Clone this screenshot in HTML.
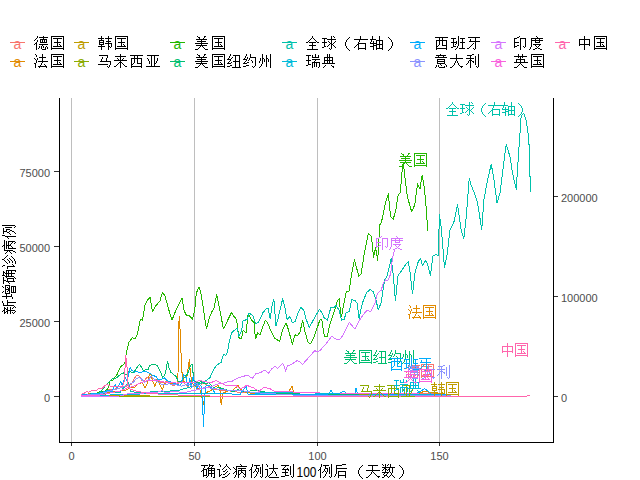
<!DOCTYPE html>
<html><head><meta charset="utf-8">
<style>
html,body{margin:0;padding:0;background:#fff;width:640px;height:480px;overflow:hidden}
svg{position:absolute;left:0;top:0}
text{font-family:"Liberation Sans",sans-serif}
.ax{font-size:11px;fill:#4d4d4d}
.lg{font-size:15px;fill:#000;letter-spacing:1.3px}
</style></head><body>
<svg width="640" height="480" viewBox="0 0 640 480">
<g stroke="#bebebe" stroke-width="1" shape-rendering="crispEdges">
<line x1="71.5" y1="98" x2="71.5" y2="442" />
<line x1="194.5" y1="98" x2="194.5" y2="442" />
<line x1="317.5" y1="98" x2="317.5" y2="442" />
<line x1="439.5" y1="98" x2="439.5" y2="442" />
</g>
<g stroke="#000" stroke-width="1" fill="none" shape-rendering="crispEdges">
<path d="M59.5 98 V442.5 H553.5 V98"/>
</g>
<g stroke="#333" stroke-width="1" shape-rendering="crispEdges">
<line x1="54" y1="396.5" x2="59" y2="396.5"/>
<line x1="54" y1="321.5" x2="59" y2="321.5"/>
<line x1="54" y1="246.5" x2="59" y2="246.5"/>
<line x1="54" y1="171.5" x2="59" y2="171.5"/>
<line x1="554" y1="396.5" x2="558" y2="396.5"/>
<line x1="554" y1="296.5" x2="558" y2="296.5"/>
<line x1="554" y1="196.5" x2="558" y2="196.5"/>
<line x1="71.5" y1="443" x2="71.5" y2="446"/>
<line x1="194.5" y1="443" x2="194.5" y2="446"/>
<line x1="317.5" y1="443" x2="317.5" y2="446"/>
<line x1="439.5" y1="443" x2="439.5" y2="446"/>
</g>
<g class="ax" text-anchor="end">
<text x="50" y="401.5">0</text>
<text x="50" y="326.5">25000</text>
<text x="50" y="251.5">50000</text>
<text x="50" y="176.5">75000</text>
</g>
<g class="ax">
<text x="561" y="401.5">0</text>
<text x="561" y="301.5">100000</text>
<text x="561" y="201.5">200000</text>
</g>
<g class="ax" text-anchor="middle">
<text x="71.5" y="459.5">0</text>
<text x="194.5" y="459.5">50</text>
<text x="317.5" y="459.5">100</text>
<text x="439.5" y="459.5">150</text>
</g>
<path fill="#000" shape-rendering="crispEdges" d="M209 464h1v1h-1zM201 465h7v1h-7zM209 465h5v1h-5zM204 466h1v1h-1zM209 466h1v1h-1zM212 466h1v1h-1zM204 467h1v1h-1zM208 467h1v1h-1zM211 467h1v1h-1zM203 468h1v1h-1zM207 468h8v1h-8zM203 469h4v1h-4zM208 469h1v1h-1zM211 469h1v1h-1zM214 469h1v1h-1zM202 470h2v1h-2zM206 470h1v1h-1zM208 470h7v1h-7zM201 471h1v1h-1zM203 471h1v1h-1zM206 471h1v1h-1zM208 471h1v1h-1zM211 471h1v1h-1zM214 471h1v1h-1zM203 472h1v1h-1zM206 472h1v1h-1zM208 472h1v1h-1zM211 472h1v1h-1zM214 472h1v1h-1zM203 473h1v1h-1zM206 473h1v1h-1zM208 473h7v1h-7zM203 474h1v1h-1zM206 474h1v1h-1zM208 474h1v1h-1zM211 474h1v1h-1zM214 474h1v1h-1zM203 475h4v1h-4zM208 475h1v1h-1zM211 475h1v1h-1zM214 475h1v1h-1zM203 476h1v1h-1zM207 476h1v1h-1zM211 476h1v1h-1zM214 476h1v1h-1zM206 477h1v1h-1zM213 477h2v1h-2zM219 464h1v1h-1zM226 464h1v1h-1zM220 465h1v1h-1zM226 465h1v1h-1zM220 466h1v1h-1zM225 466h1v1h-1zM227 466h1v1h-1zM224 467h1v1h-1zM228 467h1v1h-1zM223 468h1v1h-1zM229 468h1v1h-1zM217 469h3v1h-3zM222 469h1v1h-1zM226 469h1v1h-1zM230 469h1v1h-1zM219 470h1v1h-1zM225 470h1v1h-1zM219 471h1v1h-1zM223 471h2v1h-2zM227 471h1v1h-1zM219 472h1v1h-1zM226 472h1v1h-1zM219 473h1v1h-1zM225 473h1v1h-1zM229 473h1v1h-1zM219 474h1v1h-1zM221 474h1v1h-1zM223 474h2v1h-2zM228 474h1v1h-1zM219 475h2v1h-2zM227 475h1v1h-1zM219 476h1v1h-1zM225 476h2v1h-2zM222 477h3v1h-3zM240 464h1v1h-1zM241 465h1v1h-1zM236 466h11v1h-11zM233 467h1v1h-1zM236 467h1v1h-1zM234 468h1v1h-1zM236 468h1v1h-1zM238 468h8v1h-8zM235 469h2v1h-2zM241 469h1v1h-1zM236 470h1v1h-1zM238 470h8v1h-8zM235 471h2v1h-2zM238 471h1v1h-1zM241 471h1v1h-1zM245 471h1v1h-1zM234 472h1v1h-1zM236 472h1v1h-1zM238 472h1v1h-1zM241 472h2v1h-2zM245 472h1v1h-1zM233 473h1v1h-1zM236 473h1v1h-1zM238 473h1v1h-1zM240 473h1v1h-1zM243 473h1v1h-1zM245 473h1v1h-1zM236 474h1v1h-1zM238 474h2v1h-2zM244 474h2v1h-2zM235 475h1v1h-1zM238 475h1v1h-1zM245 475h1v1h-1zM235 476h1v1h-1zM238 476h1v1h-1zM243 476h1v1h-1zM245 476h1v1h-1zM234 477h1v1h-1zM238 477h1v1h-1zM244 477h1v1h-1zM252 464h1v1h-1zM262 464h1v1h-1zM252 465h1v1h-1zM254 465h6v1h-6zM262 465h1v1h-1zM252 466h1v1h-1zM256 466h1v1h-1zM262 466h1v1h-1zM251 467h1v1h-1zM256 467h1v1h-1zM260 467h1v1h-1zM262 467h1v1h-1zM251 468h1v1h-1zM256 468h3v1h-3zM260 468h1v1h-1zM262 468h1v1h-1zM250 469h2v1h-2zM255 469h1v1h-1zM258 469h1v1h-1zM260 469h1v1h-1zM262 469h1v1h-1zM249 470h1v1h-1zM251 470h1v1h-1zM255 470h1v1h-1zM258 470h1v1h-1zM260 470h1v1h-1zM262 470h1v1h-1zM251 471h1v1h-1zM254 471h1v1h-1zM256 471h1v1h-1zM258 471h1v1h-1zM260 471h1v1h-1zM262 471h1v1h-1zM251 472h1v1h-1zM253 472h1v1h-1zM257 472h1v1h-1zM260 472h1v1h-1zM262 472h1v1h-1zM251 473h1v1h-1zM257 473h1v1h-1zM260 473h1v1h-1zM262 473h1v1h-1zM251 474h1v1h-1zM256 474h1v1h-1zM262 474h1v1h-1zM251 475h1v1h-1zM256 475h1v1h-1zM262 475h1v1h-1zM251 476h1v1h-1zM255 476h1v1h-1zM260 476h1v1h-1zM262 476h1v1h-1zM251 477h1v1h-1zM254 477h1v1h-1zM261 477h1v1h-1zM266 464h1v1h-1zM273 464h1v1h-1zM267 465h1v1h-1zM273 465h1v1h-1zM267 466h1v1h-1zM273 466h1v1h-1zM273 467h1v1h-1zM269 468h9v1h-9zM265 469h3v1h-3zM273 469h1v1h-1zM267 470h1v1h-1zM273 470h1v1h-1zM267 471h1v1h-1zM272 471h1v1h-1zM274 471h1v1h-1zM267 472h1v1h-1zM272 472h1v1h-1zM275 472h1v1h-1zM267 473h1v1h-1zM271 473h1v1h-1zM275 473h1v1h-1zM267 474h1v1h-1zM270 474h1v1h-1zM276 474h1v1h-1zM267 475h1v1h-1zM269 475h1v1h-1zM276 475h1v1h-1zM266 476h1v1h-1zM268 476h1v1h-1zM265 477h1v1h-1zM269 477h10v1h-10zM293 464h1v1h-1zM281 465h8v1h-8zM293 465h1v1h-1zM285 466h1v1h-1zM290 466h1v1h-1zM293 466h1v1h-1zM284 467h1v1h-1zM290 467h1v1h-1zM293 467h1v1h-1zM283 468h1v1h-1zM287 468h1v1h-1zM290 468h1v1h-1zM293 468h1v1h-1zM282 469h7v1h-7zM290 469h1v1h-1zM293 469h1v1h-1zM285 470h1v1h-1zM288 470h1v1h-1zM290 470h1v1h-1zM293 470h1v1h-1zM285 471h1v1h-1zM290 471h1v1h-1zM293 471h1v1h-1zM282 472h6v1h-6zM290 472h1v1h-1zM293 472h1v1h-1zM285 473h1v1h-1zM290 473h1v1h-1zM293 473h1v1h-1zM285 474h1v1h-1zM290 474h1v1h-1zM293 474h1v1h-1zM285 475h4v1h-4zM293 475h1v1h-1zM281 476h4v1h-4zM291 476h1v1h-1zM293 476h1v1h-1zM292 477h1v1h-1zM321 464h1v1h-1zM331 464h1v1h-1zM321 465h1v1h-1zM323 465h6v1h-6zM331 465h1v1h-1zM321 466h1v1h-1zM325 466h1v1h-1zM331 466h1v1h-1zM320 467h1v1h-1zM325 467h1v1h-1zM329 467h1v1h-1zM331 467h1v1h-1zM320 468h1v1h-1zM325 468h3v1h-3zM329 468h1v1h-1zM331 468h1v1h-1zM319 469h2v1h-2zM324 469h1v1h-1zM327 469h1v1h-1zM329 469h1v1h-1zM331 469h1v1h-1zM318 470h1v1h-1zM320 470h1v1h-1zM324 470h1v1h-1zM327 470h1v1h-1zM329 470h1v1h-1zM331 470h1v1h-1zM320 471h1v1h-1zM323 471h1v1h-1zM325 471h1v1h-1zM327 471h1v1h-1zM329 471h1v1h-1zM331 471h1v1h-1zM320 472h1v1h-1zM322 472h1v1h-1zM326 472h1v1h-1zM329 472h1v1h-1zM331 472h1v1h-1zM320 473h1v1h-1zM326 473h1v1h-1zM329 473h1v1h-1zM331 473h1v1h-1zM320 474h1v1h-1zM325 474h1v1h-1zM331 474h1v1h-1zM320 475h1v1h-1zM325 475h1v1h-1zM331 475h1v1h-1zM320 476h1v1h-1zM324 476h1v1h-1zM329 476h1v1h-1zM331 476h1v1h-1zM320 477h1v1h-1zM323 477h1v1h-1zM330 477h1v1h-1zM342 464h4v1h-4zM336 465h6v1h-6zM336 466h1v1h-1zM336 467h1v1h-1zM336 468h11v1h-11zM336 469h1v1h-1zM336 470h1v1h-1zM336 471h1v1h-1zM338 471h8v1h-8zM336 472h1v1h-1zM338 472h1v1h-1zM345 472h1v1h-1zM336 473h1v1h-1zM338 473h1v1h-1zM345 473h1v1h-1zM335 474h1v1h-1zM338 474h1v1h-1zM345 474h1v1h-1zM335 475h1v1h-1zM338 475h8v1h-8zM334 476h1v1h-1zM338 476h1v1h-1zM345 476h1v1h-1zM338 477h1v1h-1zM345 477h1v1h-1zM362 465h1v1h-1zM361 466h1v1h-1zM360 467h1v1h-1zM359 468h1v1h-1zM359 469h1v1h-1zM358 470h1v1h-1zM358 471h1v1h-1zM358 472h1v1h-1zM358 473h1v1h-1zM359 474h1v1h-1zM359 475h1v1h-1zM360 476h1v1h-1zM361 477h1v1h-1zM362 478h1v1h-1zM368 465h10v1h-10zM372 466h1v1h-1zM372 467h1v1h-1zM372 468h1v1h-1zM372 469h1v1h-1zM366 470h14v1h-14zM372 471h1v1h-1zM371 472h1v1h-1zM373 472h1v1h-1zM371 473h1v1h-1zM374 473h1v1h-1zM370 474h1v1h-1zM375 474h1v1h-1zM369 475h1v1h-1zM376 475h1v1h-1zM368 476h1v1h-1zM377 476h3v1h-3zM366 477h2v1h-2zM378 477h1v1h-1zM382 464h1v1h-1zM385 464h1v1h-1zM388 464h1v1h-1zM390 464h1v1h-1zM383 465h1v1h-1zM385 465h1v1h-1zM387 465h1v1h-1zM390 465h1v1h-1zM385 466h1v1h-1zM390 466h1v1h-1zM382 467h13v1h-13zM384 468h2v1h-2zM389 468h1v1h-1zM392 468h1v1h-1zM383 469h1v1h-1zM385 469h2v1h-2zM388 469h2v1h-2zM392 469h1v1h-1zM382 470h1v1h-1zM385 470h1v1h-1zM387 470h1v1h-1zM389 470h1v1h-1zM392 470h1v1h-1zM385 471h1v1h-1zM389 471h1v1h-1zM392 471h1v1h-1zM382 472h7v1h-7zM390 472h1v1h-1zM392 472h1v1h-1zM384 473h1v1h-1zM387 473h1v1h-1zM391 473h1v1h-1zM383 474h1v1h-1zM386 474h1v1h-1zM391 474h1v1h-1zM384 475h3v1h-3zM390 475h1v1h-1zM392 475h1v1h-1zM384 476h1v1h-1zM387 476h1v1h-1zM389 476h1v1h-1zM393 476h1v1h-1zM382 477h2v1h-2zM388 477h1v1h-1zM394 477h1v1h-1zM399 465h1v1h-1zM400 466h1v1h-1zM401 467h1v1h-1zM402 468h1v1h-1zM402 469h1v1h-1zM403 470h1v1h-1zM403 471h1v1h-1zM403 472h1v1h-1zM403 473h1v1h-1zM402 474h1v1h-1zM402 475h1v1h-1zM401 476h1v1h-1zM400 477h1v1h-1zM399 478h1v1h-1z"/>
<text x="296.5" y="477" textLength="20" lengthAdjust="spacingAndGlyphs" style="font-size:14px;fill:#000">100</text>
<path fill="#000" shape-rendering="crispEdges" transform="rotate(-90)" d="M-312 2h1v1h-1zM-303 2h2v1h-2zM-311 3h1v1h-1zM-306 3h3v1h-3zM-314 4h7v1h-7zM-306 4h1v1h-1zM-313 5h1v1h-1zM-309 5h1v1h-1zM-306 5h1v1h-1zM-312 6h1v1h-1zM-310 6h1v1h-1zM-306 6h1v1h-1zM-314 7h7v1h-7zM-306 7h6v1h-6zM-311 8h1v1h-1zM-306 8h1v1h-1zM-303 8h1v1h-1zM-311 9h1v1h-1zM-306 9h1v1h-1zM-303 9h1v1h-1zM-314 10h7v1h-7zM-306 10h1v1h-1zM-303 10h1v1h-1zM-311 11h1v1h-1zM-306 11h1v1h-1zM-303 11h1v1h-1zM-313 12h1v1h-1zM-311 12h1v1h-1zM-309 12h1v1h-1zM-306 12h1v1h-1zM-303 12h1v1h-1zM-314 13h1v1h-1zM-311 13h1v1h-1zM-308 13h1v1h-1zM-306 13h1v1h-1zM-303 13h1v1h-1zM-313 14h1v1h-1zM-311 14h1v1h-1zM-307 14h1v1h-1zM-303 14h1v1h-1zM-312 15h1v1h-1zM-308 15h1v1h-1zM-303 15h1v1h-1zM-297 2h1v1h-1zM-293 2h1v1h-1zM-287 2h1v1h-1zM-297 3h1v1h-1zM-292 3h1v1h-1zM-288 3h1v1h-1zM-297 4h1v1h-1zM-297 5h1v1h-1zM-294 5h9v1h-9zM-299 6h6v1h-6zM-290 6h1v1h-1zM-286 6h1v1h-1zM-297 7h1v1h-1zM-294 7h1v1h-1zM-292 7h1v1h-1zM-290 7h1v1h-1zM-288 7h1v1h-1zM-286 7h1v1h-1zM-297 8h1v1h-1zM-294 8h1v1h-1zM-291 8h3v1h-3zM-286 8h1v1h-1zM-297 9h1v1h-1zM-294 9h9v1h-9zM-297 10h1v1h-1zM-297 11h3v1h-3zM-293 11h7v1h-7zM-299 12h2v1h-2zM-293 12h1v1h-1zM-287 12h1v1h-1zM-293 13h7v1h-7zM-293 14h1v1h-1zM-287 14h1v1h-1zM-293 15h7v1h-7zM-276 2h1v1h-1zM-284 3h7v1h-7zM-276 3h5v1h-5zM-281 4h1v1h-1zM-276 4h1v1h-1zM-273 4h1v1h-1zM-281 5h1v1h-1zM-277 5h1v1h-1zM-274 5h1v1h-1zM-282 6h1v1h-1zM-278 6h8v1h-8zM-282 7h4v1h-4zM-277 7h1v1h-1zM-274 7h1v1h-1zM-271 7h1v1h-1zM-283 8h2v1h-2zM-279 8h1v1h-1zM-277 8h7v1h-7zM-284 9h1v1h-1zM-282 9h1v1h-1zM-279 9h1v1h-1zM-277 9h1v1h-1zM-274 9h1v1h-1zM-271 9h1v1h-1zM-282 10h1v1h-1zM-279 10h1v1h-1zM-277 10h1v1h-1zM-274 10h1v1h-1zM-271 10h1v1h-1zM-282 11h1v1h-1zM-279 11h1v1h-1zM-277 11h7v1h-7zM-282 12h1v1h-1zM-279 12h1v1h-1zM-277 12h1v1h-1zM-274 12h1v1h-1zM-271 12h1v1h-1zM-282 13h4v1h-4zM-277 13h1v1h-1zM-274 13h1v1h-1zM-271 13h1v1h-1zM-282 14h1v1h-1zM-278 14h1v1h-1zM-274 14h1v1h-1zM-271 14h1v1h-1zM-279 15h1v1h-1zM-272 15h2v1h-2zM-267 2h1v1h-1zM-260 2h1v1h-1zM-266 3h1v1h-1zM-260 3h1v1h-1zM-266 4h1v1h-1zM-261 4h1v1h-1zM-259 4h1v1h-1zM-262 5h1v1h-1zM-258 5h1v1h-1zM-263 6h1v1h-1zM-257 6h1v1h-1zM-269 7h3v1h-3zM-264 7h1v1h-1zM-260 7h1v1h-1zM-256 7h1v1h-1zM-267 8h1v1h-1zM-261 8h1v1h-1zM-267 9h1v1h-1zM-263 9h2v1h-2zM-259 9h1v1h-1zM-267 10h1v1h-1zM-260 10h1v1h-1zM-267 11h1v1h-1zM-261 11h1v1h-1zM-257 11h1v1h-1zM-267 12h1v1h-1zM-265 12h1v1h-1zM-263 12h2v1h-2zM-258 12h1v1h-1zM-267 13h2v1h-2zM-259 13h1v1h-1zM-267 14h1v1h-1zM-261 14h2v1h-2zM-264 15h3v1h-3zM-247 2h1v1h-1zM-246 3h1v1h-1zM-251 4h11v1h-11zM-254 5h1v1h-1zM-251 5h1v1h-1zM-253 6h1v1h-1zM-251 6h1v1h-1zM-249 6h8v1h-8zM-252 7h2v1h-2zM-246 7h1v1h-1zM-251 8h1v1h-1zM-249 8h8v1h-8zM-252 9h2v1h-2zM-249 9h1v1h-1zM-246 9h1v1h-1zM-242 9h1v1h-1zM-253 10h1v1h-1zM-251 10h1v1h-1zM-249 10h1v1h-1zM-246 10h2v1h-2zM-242 10h1v1h-1zM-254 11h1v1h-1zM-251 11h1v1h-1zM-249 11h1v1h-1zM-247 11h1v1h-1zM-244 11h1v1h-1zM-242 11h1v1h-1zM-251 12h1v1h-1zM-249 12h2v1h-2zM-243 12h2v1h-2zM-252 13h1v1h-1zM-249 13h1v1h-1zM-242 13h1v1h-1zM-252 14h1v1h-1zM-249 14h1v1h-1zM-244 14h1v1h-1zM-242 14h1v1h-1zM-253 15h1v1h-1zM-249 15h1v1h-1zM-243 15h1v1h-1zM-236 2h1v1h-1zM-226 2h1v1h-1zM-236 3h1v1h-1zM-234 3h6v1h-6zM-226 3h1v1h-1zM-236 4h1v1h-1zM-232 4h1v1h-1zM-226 4h1v1h-1zM-237 5h1v1h-1zM-232 5h1v1h-1zM-228 5h1v1h-1zM-226 5h1v1h-1zM-237 6h1v1h-1zM-232 6h3v1h-3zM-228 6h1v1h-1zM-226 6h1v1h-1zM-238 7h2v1h-2zM-233 7h1v1h-1zM-230 7h1v1h-1zM-228 7h1v1h-1zM-226 7h1v1h-1zM-239 8h1v1h-1zM-237 8h1v1h-1zM-233 8h1v1h-1zM-230 8h1v1h-1zM-228 8h1v1h-1zM-226 8h1v1h-1zM-237 9h1v1h-1zM-234 9h1v1h-1zM-232 9h1v1h-1zM-230 9h1v1h-1zM-228 9h1v1h-1zM-226 9h1v1h-1zM-237 10h1v1h-1zM-235 10h1v1h-1zM-231 10h1v1h-1zM-228 10h1v1h-1zM-226 10h1v1h-1zM-237 11h1v1h-1zM-231 11h1v1h-1zM-228 11h1v1h-1zM-226 11h1v1h-1zM-237 12h1v1h-1zM-232 12h1v1h-1zM-226 12h1v1h-1zM-237 13h1v1h-1zM-232 13h1v1h-1zM-226 13h1v1h-1zM-237 14h1v1h-1zM-233 14h1v1h-1zM-228 14h1v1h-1zM-226 14h1v1h-1zM-237 15h1v1h-1zM-234 15h1v1h-1zM-227 15h1v1h-1z"/>
<g fill="none" stroke-width="1" stroke-linejoin="round" shape-rendering="crispEdges">
<polyline stroke="#F8766D" points="81.0,394.5 95.0,394.0 105.0,392.0 110.0,389.0 115.0,389.0 120.0,388.0 125.0,386.9 131.6,384.0 134.4,378.4 136.2,375.6 138.1,375.2 140.0,376.6 141.4,380.3 144.7,380.3 147.0,377.0 151.0,377.4 156.4,380.6 161.9,382.8 168.4,381.2 172.8,386.1 177.2,383.9 181.6,380.6 186.0,385.0 190.3,388.3 194.7,385.0 199.1,387.2 203.5,382.8 208.0,386.0 212.0,389.0 220.0,390.0 230.0,391.0 240.0,392.5 260.0,393.0 280.0,394.0 300.0,394.5 340.0,394.5 380.0,394.0 420.0,393.5 445.0,393.0"/>
<polyline stroke="#E18A00" points="81.0,394.5 100.0,394.0 110.0,392.0 120.0,391.0 125.0,390.6 129.7,387.8 134.4,387.3 138.1,384.0 141.4,382.7 143.0,384.0 145.2,387.8 147.0,384.0 149.8,373.3 150.8,374.7 152.7,381.2 155.0,386.4 156.9,379.4 158.8,382.2 160.5,386.0 162.5,389.2 164.4,384.0 167.2,382.2 170.0,383.5 173.8,384.0 177.0,383.1 178.0,373.8 179.1,316.6 180.0,328.8 181.0,353.0 181.9,372.0 183.8,381.2 186.0,383.0 188.4,366.2 189.4,359.7 190.3,371.9 192.0,383.0 196.0,387.0 200.0,390.0 203.7,404.1 205.0,393.0 210.0,391.0 213.0,389.0 216.3,386.1 218.4,385.6 220.0,391.0 221.2,404.7 223.0,393.0 228.0,391.0 233.0,390.0 238.1,385.6 240.3,389.4 245.0,392.0 250.0,393.0 270.0,394.5 288.0,393.0 292.0,386.2 294.0,393.0 300.0,395.0 320.0,395.0 350.0,394.5 380.0,395.0 400.0,394.0 420.0,393.0 425.0,391.0 430.0,392.5 445.0,394.0"/>
<polyline stroke="#BE9C00" points="81.0,395.0 88.0,394.0 93.0,393.0 98.0,394.0 110.0,395.5 150.0,396.0 250.0,396.0 350.0,396.0 445.0,395.5"/>
<polyline stroke="#8CAB00" points="81.0,396.0 150.0,396.0 250.0,396.0 350.0,396.0 445.0,396.0"/>
<polyline stroke="#24B700" points="81.0,395.5 95.0,394.0 101.2,391.3 103.4,392.4 107.8,389.1 110.0,381.0 113.1,380.2 117.3,374.0 120.4,366.7 123.5,364.6 125.1,362.5 126.1,354.2 127.5,348.3 128.7,342.5 132.5,337.5 135.0,339.2 137.5,334.2 139.7,321.7 140.8,319.2 142.5,320.0 145.0,305.0 147.5,300.0 150.0,297.5 152.5,311.7 155.8,305.8 160.0,300.8 162.5,292.5 165.0,295.8 168.3,308.3 172.0,320.0 175.0,312.5 178.3,305.0 182.0,298.3 184.2,310.8 186.7,315.8 188.7,315.0 192.5,319.2 194.7,310.0 196.3,293.3 198.3,288.3 199.4,287.3 200.8,293.1 203.0,306.2 206.4,328.9 208.9,319.4 211.3,312.8 214.0,308.4 216.6,294.6 218.3,301.9 220.5,313.5 223.4,328.9 225.6,324.5 228.5,318.6 231.5,312.4 234.1,316.5 236.6,319.4 237.6,328.1 238.8,337.6 241.4,339.0 243.1,330.3 246.0,333.2 248.2,313.5 251.1,319.4 254.0,322.3 255.5,339.0 257.7,332.5 259.9,334.7 262.9,326.7 265.5,320.1 268.0,323.8 270.9,331.0 274.6,338.3 279.7,341.2 282.6,329.6 286.2,323.0 288.4,329.6 292.4,344.2 295.0,334.7 297.2,336.1 300.1,331.8 302.6,320.1 305.2,332.5 308.1,342.7 311.0,343.4 314.0,336.9 317.6,326.7 319.8,320.1 321.8,319.4 324.4,336.9 327.3,336.9 329.5,325.2 332.4,316.5 335.3,308.4 337.5,300.4 339.2,298.7 340.4,310.6 341.6,316.5 343.3,306.2 346.2,291.7 349.2,291.0 350.6,280.0 352.0,272.5 354.5,260.0 358.8,276.2 361.2,273.8 364.2,254.2 368.3,233.3 371.5,236.5 373.5,257.3 375.6,248.0 377.7,260.4 379.8,225.0 380.8,223.3 382.5,218.0 385.6,202.5 388.3,193.8 389.8,208.8 390.8,217.0 393.3,219.2 396.0,208.8 398.1,195.2 400.2,193.0 402.3,169.2 403.3,162.0 405.4,181.7 407.5,197.3 411.7,211.9 414.8,204.6 417.5,183.8 420.0,189.0 422.1,175.4 423.8,183.8 425.8,202.5 427.7,230.6"/>
<polyline stroke="#00BE70" points="81.0,395.0 100.0,393.0 103.4,388.4 106.3,384.7 110.0,381.0 112.0,378.9 116.2,378.1 120.4,374.5 123.5,372.9 125.0,374.7 127.8,374.2 129.2,370.5 131.6,372.3 133.9,372.3 136.2,368.6 139.5,364.4 141.4,367.2 143.3,370.5 145.2,370.0 148.0,369.5 149.8,365.8 152.2,364.4 155.0,364.4 157.8,366.2 160.2,371.4 162.5,377.0 164.8,375.2 166.2,369.0 167.6,361.1 169.0,368.1 170.9,372.3 173.8,374.7 176.1,376.6 177.5,379.4 178.4,382.2 181.0,381.0 184.0,378.0 187.5,373.8 191.2,364.4 192.2,364.2 193.8,380.6 196.6,382.8 200.9,381.7 205.3,383.9 209.1,382.8 211.9,386.1 215.2,388.3 219.0,387.5 222.8,388.8 228.0,390.5 233.8,391.6 238.1,389.4 242.5,391.6 250.0,391.0 255.6,390.0 262.0,391.5 270.0,393.0 300.0,394.0 340.0,394.0 380.0,394.5 420.0,394.5 445.0,394.5"/>
<polyline stroke="#00C1AB" points="81.0,395.5 90.0,394.5 100.0,393.5 110.0,393.0 120.0,392.5 125.6,385.4 128.2,382.3 130.8,391.7 140.0,392.5 150.0,392.0 160.0,391.5 170.0,391.0 180.0,390.0 190.0,387.0 198.0,384.0 203.8,382.5 206.9,380.0 210.0,377.5 211.9,373.1 214.4,368.1 216.9,365.0 221.2,362.5 222.5,357.5 223.8,354.4 225.6,355.6 227.5,351.9 228.8,343.8 231.5,333.2 234.4,330.3 237.3,328.1 238.8,336.1 241.7,330.3 243.1,320.8 245.3,320.1 247.5,319.4 249.0,313.2 251.1,314.3 253.3,316.5 255.5,323.8 258.4,322.3 261.4,316.5 262.9,312.8 265.8,309.2 268.0,308.4 270.2,318.6 272.0,306.2 273.9,299.0 274.6,309.2 276.0,326.0 278.2,317.9 280.4,308.4 282.6,299.0 284.8,307.0 287.0,319.4 289.9,316.5 292.4,323.0 295.0,321.6 297.9,313.5 300.8,307.0 303.8,310.6 305.9,318.6 309.3,327.4 312.5,321.6 316.1,315.0 319.5,309.2 322.0,312.8 324.2,317.9 327.3,320.1 331.0,307.0 333.9,307.7 336.0,305.5 339.0,309.9 341.6,320.1 344.1,319.4 346.2,312.8 349.2,311.4 351.8,299.7 355.0,300.4 357.2,303.3 359.1,318.6 362.3,303.3 366.7,292.4 370.3,289.5 373.2,291.7 375.7,299.0 378.3,309.9 381.2,302.6 383.4,287.3 384.6,280.2 387.0,276.0 389.2,267.7 391.2,258.3 393.3,275.0 395.4,301.0 398.1,275.0 401.7,270.8 404.8,265.6 408.3,261.5 410.0,271.9 412.5,293.8 415.2,271.9 418.3,261.5 420.4,258.3 422.5,265.6 425.6,260.4 427.7,264.6 430.4,276.0 432.9,256.2 436.0,254.2 438.1,256.2 439.5,215.0 441.2,227.5 444.5,267.5 447.0,255.0 450.0,230.0 453.8,222.5 457.5,205.0 461.2,230.0 463.8,238.8 466.2,217.5 469.2,178.5 471.2,185.5 474.5,193.0 477.5,203.0 481.8,229.5 483.8,200.0 487.5,180.5 491.2,164.2 493.8,178.0 497.0,203.0 500.0,193.0 503.8,163.0 506.2,144.2 510.0,156.8 512.5,173.0 516.2,189.2 518.8,150.5 521.2,115.5 523.8,113.5 526.2,120.5 528.8,138.0 530.5,191.8"/>
<polyline stroke="#00BBDA" points="81.0,395.5 110.0,395.0 140.0,394.0 180.0,393.5 220.0,393.0 260.0,393.0 300.0,392.5 330.0,393.5 360.0,394.0 400.0,394.5 445.0,395.0"/>
<polyline stroke="#00ACFC" points="81.0,395.0 96.8,393.5 101.2,392.4 108.5,390.5 112.0,391.7 115.2,384.5 116.7,388.0 118.5,386.0 120.6,381.7 122.2,384.8 125.3,377.0 126.9,380.9 130.2,367.7 131.6,370.0 134.4,372.3 136.2,371.4 140.0,373.0 143.3,371.3 146.6,371.9 150.4,373.5 153.1,375.7 155.9,376.3 158.0,380.1 161.0,379.5 164.6,377.9 166.8,380.6 172.8,382.8 177.2,384.5 180.5,385.6 183.8,374.6 186.0,377.4 188.1,386.1 189.8,378.4 191.4,387.2 193.1,376.3 194.7,382.8 196.9,388.3 199.1,383.9 201.3,386.1 202.4,400.0 203.5,426.6 204.6,400.0 205.6,386.1 208.0,385.0 210.0,386.0 215.0,393.0 240.0,394.5 246.0,386.0 248.0,394.0 280.0,395.0 320.0,394.5 328.0,394.0 331.0,390.6 333.0,393.5 340.0,393.5 342.0,392.0 344.0,391.0 346.0,393.0 352.0,393.5 355.0,393.0 356.0,388.5 357.5,393.5 380.0,394.0 400.0,394.0 415.0,393.5 420.0,392.0 424.5,388.6 428.0,391.0 431.0,394.0 450.0,394.5"/>
<polyline stroke="#8B93FF" points="81.0,395.5 100.0,394.0 110.0,391.0 120.0,388.0 125.0,386.0 129.7,384.0 133.4,382.2 136.2,378.9 139.0,377.5 141.5,379.0 144.7,382.2 148.4,380.3 151.0,376.3 153.0,378.0 157.5,381.7 163.0,385.0 168.4,383.9 175.0,384.5 181.6,386.1 188.1,383.9 192.5,386.1 196.9,383.4 200.0,389.0 206.0,387.0 210.0,388.0 220.0,389.5 231.0,390.5 241.4,390.5 250.0,392.0 260.0,393.0 292.0,395.0 340.0,395.5 400.0,395.5 451.0,395.5"/>
<polyline stroke="#D575FE" points="81.0,396.5 120.0,396.0 130.6,393.0 143.8,393.0 150.0,392.0 156.0,393.0 162.5,390.2 165.0,393.0 173.0,391.5 185.0,392.5 200.0,389.0 210.0,387.0 218.0,384.0 225.0,382.8 228.3,381.2 231.6,381.7 234.9,379.5 238.1,377.9 241.4,376.8 245.8,375.7 248.0,375.4 250.3,377.1 252.4,378.4 255.6,374.0 260.6,372.5 264.6,370.2 268.6,373.1 271.5,369.1 274.9,366.2 277.8,368.5 280.1,366.2 282.4,363.3 284.1,366.2 285.6,371.3 287.5,365.6 290.4,365.0 293.8,362.8 297.3,360.5 300.1,362.2 302.8,364.5 305.0,361.6 309.6,356.5 314.7,350.7 317.6,351.9 321.0,349.6 324.2,345.6 327.0,342.7 331.7,336.1 336.8,339.8 340.4,339.0 344.1,333.2 349.2,322.3 355.0,329.3 358.6,321.6 363.0,315.0 366.7,310.6 371.0,311.4 375.4,301.9 377.6,293.1 381.2,290.2 383.4,283.0 385.6,280.0 387.0,281.2 389.2,278.0 390.8,273.0 392.3,259.4 394.4,250.0"/>
<polyline stroke="#F962DD" points="81.0,396.0 100.0,395.0 120.0,391.0 127.0,388.0 134.4,386.0 140.0,383.1 146.6,380.8 151.2,380.8 155.9,380.3 160.6,381.2 165.3,382.2 171.9,382.2 176.6,383.1 181.2,382.2 186.0,382.0 195.0,382.5 198.8,380.6 203.8,381.2 210.0,383.0 216.2,380.6 221.2,383.1 226.2,385.6 235.0,385.0 240.0,388.5 244.0,387.4 246.3,385.3 249.2,386.2 253.7,388.0 258.9,391.4 264.0,387.4 269.8,388.5 274.4,391.4 279.0,392.0 288.1,391.4 297.3,392.5 320.0,393.0 340.0,393.0 380.0,393.5 420.0,393.0 445.0,393.0"/>
<polyline stroke="#FF65AC" points="81.1,394.6 85.1,392.7 86.6,391.1 88.4,392.4 92.0,390.5 96.8,390.2 98.6,388.4 102.0,388.4 104.1,386.2 107.0,384.3 111.2,386.9 116.2,386.2 122.5,386.2 124.4,381.2 125.6,355.0 126.9,365.0 127.8,384.0 129.2,388.8 134.4,390.6 148.4,393.4 165.0,394.5 185.0,395.3 210.0,396.0 526.7,396.3 527.5,395.6 530.0,395.6"/>
</g>
<g shape-rendering="crispEdges">
<path fill="#F8766D" d="M409 364h1v1h-1zM415 364h1v1h-1zM409 365h1v1h-1zM411 365h9v1h-9zM408 366h1v1h-1zM415 366h1v1h-1zM407 367h1v1h-1zM412 367h7v1h-7zM406 368h1v1h-1zM409 368h1v1h-1zM412 368h1v1h-1zM414 368h1v1h-1zM416 368h1v1h-1zM418 368h1v1h-1zM409 369h1v1h-1zM412 369h1v1h-1zM414 369h1v1h-1zM416 369h1v1h-1zM418 369h1v1h-1zM408 370h1v1h-1zM412 370h7v1h-7zM407 371h2v1h-2zM406 372h1v1h-1zM408 372h1v1h-1zM411 372h9v1h-9zM408 373h1v1h-1zM414 373h1v1h-1zM408 374h1v1h-1zM411 374h1v1h-1zM413 374h1v1h-1zM415 374h1v1h-1zM418 374h1v1h-1zM408 375h1v1h-1zM411 375h1v1h-1zM413 375h1v1h-1zM415 375h1v1h-1zM417 375h1v1h-1zM419 375h1v1h-1zM408 376h1v1h-1zM410 376h1v1h-1zM413 376h1v1h-1zM417 376h1v1h-1zM419 376h1v1h-1zM408 377h1v1h-1zM414 377h4v1h-4zM421 364h13v1h-13zM421 365h1v1h-1zM433 365h1v1h-1zM421 366h1v1h-1zM423 366h9v1h-9zM433 366h1v1h-1zM421 367h1v1h-1zM427 367h1v1h-1zM433 367h1v1h-1zM421 368h1v1h-1zM427 368h1v1h-1zM433 368h1v1h-1zM421 369h1v1h-1zM427 369h1v1h-1zM433 369h1v1h-1zM421 370h1v1h-1zM424 370h7v1h-7zM433 370h1v1h-1zM421 371h1v1h-1zM427 371h1v1h-1zM433 371h1v1h-1zM421 372h1v1h-1zM427 372h1v1h-1zM429 372h1v1h-1zM433 372h1v1h-1zM421 373h1v1h-1zM427 373h1v1h-1zM430 373h1v1h-1zM433 373h1v1h-1zM421 374h1v1h-1zM423 374h9v1h-9zM433 374h1v1h-1zM421 375h1v1h-1zM433 375h1v1h-1zM421 376h13v1h-13zM421 377h1v1h-1zM433 377h1v1h-1z"/>
<path fill="#E18A00" d="M409 305h1v1h-1zM416 305h1v1h-1zM410 306h1v1h-1zM416 306h1v1h-1zM410 307h1v1h-1zM416 307h1v1h-1zM413 308h7v1h-7zM408 309h1v1h-1zM411 309h1v1h-1zM416 309h1v1h-1zM409 310h1v1h-1zM411 310h1v1h-1zM416 310h1v1h-1zM410 311h1v1h-1zM416 311h1v1h-1zM410 312h1v1h-1zM412 312h10v1h-10zM410 313h1v1h-1zM416 313h1v1h-1zM408 314h2v1h-2zM415 314h1v1h-1zM409 315h1v1h-1zM415 315h1v1h-1zM418 315h1v1h-1zM409 316h1v1h-1zM414 316h1v1h-1zM419 316h1v1h-1zM409 317h1v1h-1zM412 317h9v1h-9zM409 318h1v1h-1zM413 318h1v1h-1zM420 318h1v1h-1zM423 305h13v1h-13zM423 306h1v1h-1zM435 306h1v1h-1zM423 307h1v1h-1zM425 307h9v1h-9zM435 307h1v1h-1zM423 308h1v1h-1zM429 308h1v1h-1zM435 308h1v1h-1zM423 309h1v1h-1zM429 309h1v1h-1zM435 309h1v1h-1zM423 310h1v1h-1zM429 310h1v1h-1zM435 310h1v1h-1zM423 311h1v1h-1zM426 311h7v1h-7zM435 311h1v1h-1zM423 312h1v1h-1zM429 312h1v1h-1zM435 312h1v1h-1zM423 313h1v1h-1zM429 313h1v1h-1zM431 313h1v1h-1zM435 313h1v1h-1zM423 314h1v1h-1zM429 314h1v1h-1zM432 314h1v1h-1zM435 314h1v1h-1zM423 315h1v1h-1zM425 315h9v1h-9zM435 315h1v1h-1zM423 316h1v1h-1zM435 316h1v1h-1zM423 317h13v1h-13zM423 318h1v1h-1zM435 318h1v1h-1z"/>
<path fill="#BE9C00" d="M434 382h1v1h-1zM441 382h1v1h-1zM434 383h1v1h-1zM441 383h1v1h-1zM431 384h6v1h-6zM438 384h7v1h-7zM434 385h1v1h-1zM441 385h1v1h-1zM432 386h5v1h-5zM441 386h1v1h-1zM432 387h1v1h-1zM436 387h1v1h-1zM439 387h5v1h-5zM432 388h5v1h-5zM441 388h1v1h-1zM432 389h1v1h-1zM436 389h1v1h-1zM438 389h7v1h-7zM432 390h5v1h-5zM441 390h1v1h-1zM444 390h1v1h-1zM434 391h1v1h-1zM441 391h1v1h-1zM444 391h1v1h-1zM431 392h7v1h-7zM441 392h2v1h-2zM444 392h1v1h-1zM434 393h1v1h-1zM441 393h1v1h-1zM443 393h1v1h-1zM434 394h1v1h-1zM441 394h1v1h-1zM434 395h1v1h-1zM441 395h1v1h-1zM446 382h13v1h-13zM446 383h1v1h-1zM458 383h1v1h-1zM446 384h1v1h-1zM448 384h9v1h-9zM458 384h1v1h-1zM446 385h1v1h-1zM452 385h1v1h-1zM458 385h1v1h-1zM446 386h1v1h-1zM452 386h1v1h-1zM458 386h1v1h-1zM446 387h1v1h-1zM452 387h1v1h-1zM458 387h1v1h-1zM446 388h1v1h-1zM449 388h7v1h-7zM458 388h1v1h-1zM446 389h1v1h-1zM452 389h1v1h-1zM458 389h1v1h-1zM446 390h1v1h-1zM452 390h1v1h-1zM454 390h1v1h-1zM458 390h1v1h-1zM446 391h1v1h-1zM452 391h1v1h-1zM455 391h1v1h-1zM458 391h1v1h-1zM446 392h1v1h-1zM448 392h9v1h-9zM458 392h1v1h-1zM446 393h1v1h-1zM458 393h1v1h-1zM446 394h13v1h-13zM446 395h1v1h-1zM458 395h1v1h-1z"/>
<path fill="#8CAB00" d="M360 385h9v1h-9zM368 386h1v1h-1zM363 387h1v1h-1zM368 387h1v1h-1zM363 388h1v1h-1zM367 388h1v1h-1zM362 389h1v1h-1zM367 389h1v1h-1zM362 390h1v1h-1zM367 390h1v1h-1zM361 391h11v1h-11zM371 392h1v1h-1zM371 393h1v1h-1zM359 394h10v1h-10zM371 394h1v1h-1zM370 395h1v1h-1zM368 396h1v1h-1zM370 396h1v1h-1zM369 397h1v1h-1zM379 384h1v1h-1zM379 385h1v1h-1zM374 386h11v1h-11zM379 387h1v1h-1zM376 388h1v1h-1zM379 388h1v1h-1zM382 388h1v1h-1zM377 389h1v1h-1zM379 389h1v1h-1zM381 389h1v1h-1zM373 390h13v1h-13zM379 391h1v1h-1zM378 392h3v1h-3zM377 393h1v1h-1zM379 393h1v1h-1zM381 393h1v1h-1zM376 394h1v1h-1zM379 394h1v1h-1zM382 394h1v1h-1zM375 395h1v1h-1zM379 395h1v1h-1zM383 395h1v1h-1zM373 396h2v1h-2zM379 396h1v1h-1zM384 396h2v1h-2zM379 397h1v1h-1zM387 385h13v1h-13zM391 386h1v1h-1zM394 386h1v1h-1zM391 387h1v1h-1zM394 387h1v1h-1zM388 388h11v1h-11zM388 389h1v1h-1zM391 389h1v1h-1zM394 389h1v1h-1zM398 389h1v1h-1zM388 390h1v1h-1zM391 390h1v1h-1zM394 390h1v1h-1zM398 390h1v1h-1zM388 391h1v1h-1zM391 391h1v1h-1zM394 391h1v1h-1zM398 391h1v1h-1zM388 392h1v1h-1zM391 392h1v1h-1zM394 392h1v1h-1zM398 392h1v1h-1zM388 393h1v1h-1zM390 393h1v1h-1zM394 393h5v1h-5zM388 394h2v1h-2zM398 394h1v1h-1zM388 395h1v1h-1zM398 395h1v1h-1zM388 396h11v1h-11zM388 397h1v1h-1zM398 397h1v1h-1zM402 385h12v1h-12zM406 386h1v1h-1zM409 386h1v1h-1zM406 387h1v1h-1zM409 387h1v1h-1zM402 388h1v1h-1zM406 388h1v1h-1zM409 388h1v1h-1zM412 388h1v1h-1zM403 389h1v1h-1zM406 389h1v1h-1zM409 389h1v1h-1zM412 389h1v1h-1zM403 390h1v1h-1zM406 390h1v1h-1zM409 390h1v1h-1zM412 390h1v1h-1zM404 391h1v1h-1zM406 391h1v1h-1zM409 391h1v1h-1zM411 391h1v1h-1zM404 392h1v1h-1zM406 392h1v1h-1zM409 392h1v1h-1zM411 392h1v1h-1zM404 393h1v1h-1zM406 393h1v1h-1zM409 393h2v1h-2zM406 394h1v1h-1zM409 394h1v1h-1zM406 395h1v1h-1zM409 395h1v1h-1zM401 396h14v1h-14z"/>
<path fill="#24B700" d="M401 153h1v1h-1zM408 153h2v1h-2zM402 154h2v1h-2zM408 154h1v1h-1zM403 155h1v1h-1zM407 155h1v1h-1zM400 156h11v1h-11zM405 157h1v1h-1zM401 158h9v1h-9zM405 159h1v1h-1zM399 160h13v1h-13zM405 161h1v1h-1zM400 162h11v1h-11zM404 163h1v1h-1zM406 163h1v1h-1zM403 164h1v1h-1zM407 164h1v1h-1zM402 165h1v1h-1zM408 165h1v1h-1zM399 166h3v1h-3zM409 166h3v1h-3zM414 153h13v1h-13zM414 154h1v1h-1zM426 154h1v1h-1zM414 155h1v1h-1zM416 155h9v1h-9zM426 155h1v1h-1zM414 156h1v1h-1zM420 156h1v1h-1zM426 156h1v1h-1zM414 157h1v1h-1zM420 157h1v1h-1zM426 157h1v1h-1zM414 158h1v1h-1zM420 158h1v1h-1zM426 158h1v1h-1zM414 159h1v1h-1zM417 159h7v1h-7zM426 159h1v1h-1zM414 160h1v1h-1zM420 160h1v1h-1zM426 160h1v1h-1zM414 161h1v1h-1zM420 161h1v1h-1zM422 161h1v1h-1zM426 161h1v1h-1zM414 162h1v1h-1zM420 162h1v1h-1zM423 162h1v1h-1zM426 162h1v1h-1zM414 163h1v1h-1zM416 163h9v1h-9zM426 163h1v1h-1zM414 164h1v1h-1zM426 164h1v1h-1zM414 165h13v1h-13zM414 166h1v1h-1zM426 166h1v1h-1z"/>
<path fill="#00BE70" d="M346 350h1v1h-1zM353 350h2v1h-2zM347 351h2v1h-2zM353 351h1v1h-1zM348 352h1v1h-1zM352 352h1v1h-1zM345 353h11v1h-11zM350 354h1v1h-1zM346 355h9v1h-9zM350 356h1v1h-1zM344 357h13v1h-13zM350 358h1v1h-1zM345 359h11v1h-11zM349 360h1v1h-1zM351 360h1v1h-1zM348 361h1v1h-1zM352 361h1v1h-1zM347 362h1v1h-1zM353 362h1v1h-1zM344 363h3v1h-3zM354 363h3v1h-3zM359 350h13v1h-13zM359 351h1v1h-1zM371 351h1v1h-1zM359 352h1v1h-1zM361 352h9v1h-9zM371 352h1v1h-1zM359 353h1v1h-1zM365 353h1v1h-1zM371 353h1v1h-1zM359 354h1v1h-1zM365 354h1v1h-1zM371 354h1v1h-1zM359 355h1v1h-1zM365 355h1v1h-1zM371 355h1v1h-1zM359 356h1v1h-1zM362 356h7v1h-7zM371 356h1v1h-1zM359 357h1v1h-1zM365 357h1v1h-1zM371 357h1v1h-1zM359 358h1v1h-1zM365 358h1v1h-1zM367 358h1v1h-1zM371 358h1v1h-1zM359 359h1v1h-1zM365 359h1v1h-1zM368 359h1v1h-1zM371 359h1v1h-1zM359 360h1v1h-1zM361 360h9v1h-9zM371 360h1v1h-1zM359 361h1v1h-1zM371 361h1v1h-1zM359 362h13v1h-13zM359 363h1v1h-1zM371 363h1v1h-1zM376 350h1v1h-1zM376 351h1v1h-1zM379 351h7v1h-7zM375 352h1v1h-1zM381 352h1v1h-1zM385 352h1v1h-1zM375 353h1v1h-1zM378 353h1v1h-1zM381 353h1v1h-1zM385 353h1v1h-1zM374 354h1v1h-1zM377 354h1v1h-1zM381 354h1v1h-1zM385 354h1v1h-1zM373 355h4v1h-4zM381 355h1v1h-1zM385 355h1v1h-1zM376 356h1v1h-1zM381 356h1v1h-1zM385 356h1v1h-1zM375 357h1v1h-1zM379 357h7v1h-7zM374 358h1v1h-1zM377 358h1v1h-1zM381 358h1v1h-1zM385 358h1v1h-1zM373 359h4v1h-4zM381 359h1v1h-1zM385 359h1v1h-1zM381 360h1v1h-1zM385 360h1v1h-1zM376 361h2v1h-2zM381 361h1v1h-1zM385 361h1v1h-1zM373 362h3v1h-3zM381 362h1v1h-1zM385 362h1v1h-1zM378 363h9v1h-9zM391 350h1v1h-1zM395 350h1v1h-1zM391 351h1v1h-1zM395 351h1v1h-1zM390 352h1v1h-1zM395 352h1v1h-1zM390 353h1v1h-1zM392 353h1v1h-1zM395 353h6v1h-6zM389 354h1v1h-1zM392 354h1v1h-1zM394 354h1v1h-1zM400 354h1v1h-1zM388 355h4v1h-4zM394 355h1v1h-1zM400 355h1v1h-1zM391 356h1v1h-1zM393 356h1v1h-1zM396 356h1v1h-1zM400 356h1v1h-1zM390 357h1v1h-1zM397 357h1v1h-1zM400 357h1v1h-1zM389 358h1v1h-1zM392 358h2v1h-2zM397 358h1v1h-1zM400 358h1v1h-1zM388 359h4v1h-4zM400 359h1v1h-1zM400 360h1v1h-1zM391 361h3v1h-3zM400 361h1v1h-1zM388 362h3v1h-3zM397 362h1v1h-1zM399 362h1v1h-1zM398 363h1v1h-1zM405 350h1v1h-1zM413 350h1v1h-1zM405 351h1v1h-1zM409 351h1v1h-1zM413 351h1v1h-1zM405 352h1v1h-1zM409 352h1v1h-1zM413 352h1v1h-1zM405 353h1v1h-1zM409 353h1v1h-1zM413 353h1v1h-1zM403 354h1v1h-1zM405 354h2v1h-2zM409 354h2v1h-2zM413 354h1v1h-1zM403 355h1v1h-1zM405 355h1v1h-1zM407 355h1v1h-1zM409 355h1v1h-1zM411 355h1v1h-1zM413 355h1v1h-1zM403 356h1v1h-1zM405 356h1v1h-1zM407 356h1v1h-1zM409 356h1v1h-1zM411 356h1v1h-1zM413 356h1v1h-1zM402 357h1v1h-1zM405 357h1v1h-1zM407 357h1v1h-1zM409 357h1v1h-1zM411 357h1v1h-1zM413 357h1v1h-1zM402 358h1v1h-1zM405 358h1v1h-1zM409 358h1v1h-1zM413 358h1v1h-1zM405 359h1v1h-1zM409 359h1v1h-1zM413 359h1v1h-1zM404 360h1v1h-1zM409 360h1v1h-1zM413 360h1v1h-1zM404 361h1v1h-1zM409 361h1v1h-1zM413 361h1v1h-1zM403 362h1v1h-1zM409 362h1v1h-1zM413 362h1v1h-1zM402 363h1v1h-1zM413 363h1v1h-1z"/>
<path fill="#00C1AB" d="M452 102h1v1h-1zM452 103h1v1h-1zM451 104h1v1h-1zM453 104h1v1h-1zM450 105h1v1h-1zM454 105h1v1h-1zM449 106h1v1h-1zM455 106h1v1h-1zM448 107h1v1h-1zM456 107h1v1h-1zM446 108h2v1h-2zM449 108h7v1h-7zM457 108h2v1h-2zM452 109h1v1h-1zM452 110h1v1h-1zM449 111h7v1h-7zM452 112h1v1h-1zM452 113h1v1h-1zM452 114h1v1h-1zM447 115h11v1h-11zM469 102h1v1h-1zM471 102h1v1h-1zM469 103h1v1h-1zM472 103h1v1h-1zM460 104h5v1h-5zM469 104h1v1h-1zM462 105h1v1h-1zM465 105h9v1h-9zM462 106h1v1h-1zM469 106h1v1h-1zM462 107h1v1h-1zM466 107h1v1h-1zM469 107h1v1h-1zM473 107h1v1h-1zM460 108h5v1h-5zM467 108h1v1h-1zM469 108h1v1h-1zM472 108h1v1h-1zM462 109h1v1h-1zM468 109h2v1h-2zM471 109h1v1h-1zM462 110h1v1h-1zM467 110h1v1h-1zM469 110h2v1h-2zM462 111h1v1h-1zM466 111h1v1h-1zM469 111h1v1h-1zM471 111h1v1h-1zM462 112h2v1h-2zM465 112h1v1h-1zM469 112h1v1h-1zM472 112h1v1h-1zM460 113h2v1h-2zM469 113h1v1h-1zM473 113h1v1h-1zM467 114h1v1h-1zM469 114h1v1h-1zM468 115h1v1h-1zM485 103h1v1h-1zM484 104h1v1h-1zM483 105h1v1h-1zM482 106h1v1h-1zM482 107h1v1h-1zM481 108h1v1h-1zM481 109h1v1h-1zM481 110h1v1h-1zM481 111h1v1h-1zM482 112h1v1h-1zM482 113h1v1h-1zM483 114h1v1h-1zM484 115h1v1h-1zM485 116h1v1h-1zM494 102h1v1h-1zM494 103h1v1h-1zM494 104h1v1h-1zM488 105h14v1h-14zM493 106h1v1h-1zM493 107h1v1h-1zM492 108h1v1h-1zM492 109h8v1h-8zM491 110h2v1h-2zM499 110h1v1h-1zM490 111h1v1h-1zM492 111h1v1h-1zM499 111h1v1h-1zM489 112h1v1h-1zM492 112h1v1h-1zM499 112h1v1h-1zM488 113h1v1h-1zM492 113h1v1h-1zM499 113h1v1h-1zM492 114h8v1h-8zM492 115h1v1h-1zM499 115h1v1h-1zM504 102h1v1h-1zM511 102h1v1h-1zM504 103h1v1h-1zM511 103h1v1h-1zM504 104h1v1h-1zM511 104h1v1h-1zM502 105h6v1h-6zM511 105h1v1h-1zM503 106h1v1h-1zM508 106h7v1h-7zM503 107h1v1h-1zM505 107h1v1h-1zM508 107h1v1h-1zM511 107h1v1h-1zM514 107h1v1h-1zM502 108h1v1h-1zM505 108h1v1h-1zM508 108h1v1h-1zM511 108h1v1h-1zM514 108h1v1h-1zM502 109h7v1h-7zM511 109h1v1h-1zM514 109h1v1h-1zM505 110h1v1h-1zM508 110h7v1h-7zM505 111h4v1h-4zM511 111h1v1h-1zM514 111h1v1h-1zM502 112h4v1h-4zM508 112h1v1h-1zM511 112h1v1h-1zM514 112h1v1h-1zM505 113h1v1h-1zM508 113h1v1h-1zM511 113h1v1h-1zM514 113h1v1h-1zM505 114h1v1h-1zM508 114h7v1h-7zM505 115h1v1h-1zM508 115h1v1h-1zM514 115h1v1h-1zM518 103h1v1h-1zM519 104h1v1h-1zM520 105h1v1h-1zM521 106h1v1h-1zM521 107h1v1h-1zM522 108h1v1h-1zM522 109h1v1h-1zM522 110h1v1h-1zM522 111h1v1h-1zM521 112h1v1h-1zM521 113h1v1h-1zM520 114h1v1h-1zM519 115h1v1h-1zM518 116h1v1h-1z"/>
<path fill="#00BBDA" d="M403 379h1v1h-1zM394 380h5v1h-5zM400 380h1v1h-1zM403 380h1v1h-1zM406 380h1v1h-1zM396 381h1v1h-1zM400 381h1v1h-1zM403 381h1v1h-1zM406 381h1v1h-1zM396 382h1v1h-1zM400 382h7v1h-7zM396 383h1v1h-1zM396 384h1v1h-1zM400 384h8v1h-8zM394 385h5v1h-5zM403 385h1v1h-1zM396 386h1v1h-1zM402 386h1v1h-1zM396 387h1v1h-1zM400 387h8v1h-8zM396 388h1v1h-1zM400 388h1v1h-1zM402 388h1v1h-1zM404 388h1v1h-1zM407 388h1v1h-1zM396 389h3v1h-3zM400 389h1v1h-1zM402 389h1v1h-1zM404 389h1v1h-1zM407 389h1v1h-1zM394 390h2v1h-2zM400 390h1v1h-1zM402 390h1v1h-1zM404 390h1v1h-1zM407 390h1v1h-1zM400 391h1v1h-1zM402 391h1v1h-1zM404 391h1v1h-1zM407 391h1v1h-1zM400 392h1v1h-1zM406 392h1v1h-1zM413 379h1v1h-1zM415 379h1v1h-1zM413 380h1v1h-1zM415 380h1v1h-1zM413 381h1v1h-1zM415 381h1v1h-1zM410 382h9v1h-9zM410 383h1v1h-1zM413 383h1v1h-1zM415 383h1v1h-1zM418 383h1v1h-1zM410 384h1v1h-1zM413 384h1v1h-1zM415 384h1v1h-1zM418 384h1v1h-1zM410 385h9v1h-9zM410 386h1v1h-1zM413 386h1v1h-1zM415 386h1v1h-1zM418 386h1v1h-1zM410 387h1v1h-1zM413 387h1v1h-1zM415 387h1v1h-1zM418 387h1v1h-1zM408 388h13v1h-13zM411 390h1v1h-1zM417 390h1v1h-1zM410 391h1v1h-1zM418 391h2v1h-2zM409 392h1v1h-1zM419 392h1v1h-1z"/>
<path fill="#00ACFC" d="M390 358h13v1h-13zM394 359h1v1h-1zM397 359h1v1h-1zM394 360h1v1h-1zM397 360h1v1h-1zM391 361h11v1h-11zM391 362h1v1h-1zM394 362h1v1h-1zM397 362h1v1h-1zM401 362h1v1h-1zM391 363h1v1h-1zM394 363h1v1h-1zM397 363h1v1h-1zM401 363h1v1h-1zM391 364h1v1h-1zM394 364h1v1h-1zM397 364h1v1h-1zM401 364h1v1h-1zM391 365h1v1h-1zM394 365h1v1h-1zM397 365h1v1h-1zM401 365h1v1h-1zM391 366h1v1h-1zM393 366h1v1h-1zM397 366h5v1h-5zM391 367h2v1h-2zM401 367h1v1h-1zM391 368h1v1h-1zM401 368h1v1h-1zM391 369h11v1h-11zM391 370h1v1h-1zM401 370h1v1h-1zM411 357h1v1h-1zM411 358h1v1h-1zM404 359h5v1h-5zM411 359h1v1h-1zM413 359h5v1h-5zM406 360h1v1h-1zM411 360h1v1h-1zM415 360h1v1h-1zM406 361h1v1h-1zM411 361h1v1h-1zM415 361h1v1h-1zM406 362h1v1h-1zM409 362h1v1h-1zM411 362h1v1h-1zM415 362h1v1h-1zM404 363h6v1h-6zM411 363h1v1h-1zM413 363h5v1h-5zM406 364h1v1h-1zM409 364h1v1h-1zM411 364h1v1h-1zM415 364h1v1h-1zM406 365h1v1h-1zM408 365h1v1h-1zM411 365h1v1h-1zM415 365h1v1h-1zM406 366h1v1h-1zM411 366h1v1h-1zM415 366h1v1h-1zM406 367h3v1h-3zM410 367h1v1h-1zM415 367h1v1h-1zM404 368h2v1h-2zM410 368h1v1h-1zM415 368h1v1h-1zM409 369h1v1h-1zM412 369h6v1h-6zM408 370h1v1h-1zM419 358h12v1h-12zM426 359h1v1h-1zM421 360h1v1h-1zM426 360h1v1h-1zM421 361h1v1h-1zM426 361h1v1h-1zM420 362h11v1h-11zM426 363h1v1h-1zM424 364h1v1h-1zM426 364h1v1h-1zM423 365h1v1h-1zM426 365h1v1h-1zM422 366h1v1h-1zM426 366h1v1h-1zM421 367h1v1h-1zM426 367h1v1h-1zM420 368h1v1h-1zM426 368h1v1h-1zM418 369h2v1h-2zM424 369h1v1h-1zM426 369h1v1h-1zM425 370h1v1h-1z"/>
<path fill="#8B93FF" d="M413 365h1v1h-1zM409 366h10v1h-10zM411 367h1v1h-1zM416 367h1v1h-1zM408 368h12v1h-12zM410 370h8v1h-8zM410 371h1v1h-1zM417 371h1v1h-1zM410 372h8v1h-8zM410 373h1v1h-1zM417 373h1v1h-1zM410 374h8v1h-8zM413 375h1v1h-1zM418 375h1v1h-1zM409 376h1v1h-1zM411 376h1v1h-1zM414 376h1v1h-1zM419 376h1v1h-1zM409 377h1v1h-1zM411 377h1v1h-1zM417 377h1v1h-1zM419 377h1v1h-1zM408 378h1v1h-1zM412 378h6v1h-6zM428 365h1v1h-1zM428 366h1v1h-1zM428 367h1v1h-1zM428 368h1v1h-1zM422 369h13v1h-13zM428 370h1v1h-1zM428 371h1v1h-1zM427 372h1v1h-1zM429 372h1v1h-1zM427 373h1v1h-1zM429 373h1v1h-1zM426 374h1v1h-1zM430 374h1v1h-1zM426 375h1v1h-1zM430 375h1v1h-1zM425 376h1v1h-1zM431 376h1v1h-1zM424 377h1v1h-1zM432 377h3v1h-3zM422 378h2v1h-2zM433 378h1v1h-1zM443 365h2v1h-2zM449 365h1v1h-1zM438 366h5v1h-5zM449 366h1v1h-1zM441 367h1v1h-1zM446 367h1v1h-1zM449 367h1v1h-1zM441 368h1v1h-1zM446 368h1v1h-1zM449 368h1v1h-1zM437 369h8v1h-8zM446 369h1v1h-1zM449 369h1v1h-1zM441 370h1v1h-1zM446 370h1v1h-1zM449 370h1v1h-1zM440 371h3v1h-3zM446 371h1v1h-1zM449 371h1v1h-1zM439 372h1v1h-1zM441 372h1v1h-1zM443 372h2v1h-2zM446 372h1v1h-1zM449 372h1v1h-1zM439 373h1v1h-1zM441 373h1v1h-1zM444 373h1v1h-1zM446 373h1v1h-1zM449 373h1v1h-1zM438 374h1v1h-1zM441 374h1v1h-1zM446 374h1v1h-1zM449 374h1v1h-1zM437 375h1v1h-1zM441 375h1v1h-1zM446 375h1v1h-1zM449 375h1v1h-1zM441 376h1v1h-1zM449 376h1v1h-1zM441 377h1v1h-1zM447 377h1v1h-1zM449 377h1v1h-1zM441 378h1v1h-1zM448 378h1v1h-1z"/>
<path fill="#D575FE" d="M381 236h1v1h-1zM379 237h2v1h-2zM376 238h3v1h-3zM382 238h6v1h-6zM376 239h1v1h-1zM382 239h1v1h-1zM387 239h1v1h-1zM376 240h1v1h-1zM382 240h1v1h-1zM387 240h1v1h-1zM376 241h1v1h-1zM382 241h1v1h-1zM387 241h1v1h-1zM376 242h5v1h-5zM382 242h1v1h-1zM387 242h1v1h-1zM376 243h1v1h-1zM382 243h1v1h-1zM387 243h1v1h-1zM376 244h1v1h-1zM382 244h1v1h-1zM387 244h1v1h-1zM376 245h1v1h-1zM379 245h2v1h-2zM382 245h1v1h-1zM387 245h1v1h-1zM376 246h3v1h-3zM382 246h1v1h-1zM385 246h1v1h-1zM387 246h1v1h-1zM376 247h1v1h-1zM382 247h1v1h-1zM386 247h1v1h-1zM382 248h1v1h-1zM382 249h1v1h-1zM396 236h1v1h-1zM397 237h1v1h-1zM391 238h12v1h-12zM391 239h1v1h-1zM395 239h1v1h-1zM399 239h1v1h-1zM391 240h12v1h-12zM391 241h1v1h-1zM395 241h1v1h-1zM399 241h1v1h-1zM391 242h1v1h-1zM395 242h5v1h-5zM391 243h1v1h-1zM391 244h1v1h-1zM393 244h8v1h-8zM391 245h1v1h-1zM395 245h1v1h-1zM399 245h1v1h-1zM391 246h1v1h-1zM396 246h1v1h-1zM398 246h1v1h-1zM390 247h1v1h-1zM397 247h1v1h-1zM390 248h1v1h-1zM395 248h2v1h-2zM398 248h2v1h-2zM389 249h1v1h-1zM393 249h2v1h-2zM400 249h2v1h-2z"/>
<path fill="#F962DD" d="M408 369h1v1h-1zM412 369h1v1h-1zM408 370h1v1h-1zM412 370h1v1h-1zM404 371h13v1h-13zM408 372h1v1h-1zM410 372h1v1h-1zM412 372h1v1h-1zM410 373h1v1h-1zM406 374h9v1h-9zM406 375h1v1h-1zM410 375h1v1h-1zM414 375h1v1h-1zM406 376h1v1h-1zM410 376h1v1h-1zM414 376h1v1h-1zM404 377h14v1h-14zM410 378h1v1h-1zM409 379h1v1h-1zM411 379h1v1h-1zM408 380h1v1h-1zM412 380h1v1h-1zM407 381h1v1h-1zM413 381h1v1h-1zM404 382h3v1h-3zM414 382h3v1h-3zM419 369h13v1h-13zM419 370h1v1h-1zM431 370h1v1h-1zM419 371h1v1h-1zM421 371h9v1h-9zM431 371h1v1h-1zM419 372h1v1h-1zM425 372h1v1h-1zM431 372h1v1h-1zM419 373h1v1h-1zM425 373h1v1h-1zM431 373h1v1h-1zM419 374h1v1h-1zM425 374h1v1h-1zM431 374h1v1h-1zM419 375h1v1h-1zM422 375h7v1h-7zM431 375h1v1h-1zM419 376h1v1h-1zM425 376h1v1h-1zM431 376h1v1h-1zM419 377h1v1h-1zM425 377h1v1h-1zM427 377h1v1h-1zM431 377h1v1h-1zM419 378h1v1h-1zM425 378h1v1h-1zM428 378h1v1h-1zM431 378h1v1h-1zM419 379h1v1h-1zM421 379h9v1h-9zM431 379h1v1h-1zM419 380h1v1h-1zM431 380h1v1h-1zM419 381h13v1h-13zM419 382h1v1h-1zM431 382h1v1h-1z"/>
<path fill="#FF65AC" d="M507 343h1v1h-1zM507 344h1v1h-1zM507 345h1v1h-1zM502 346h11v1h-11zM502 347h1v1h-1zM507 347h1v1h-1zM512 347h1v1h-1zM502 348h1v1h-1zM507 348h1v1h-1zM512 348h1v1h-1zM502 349h1v1h-1zM507 349h1v1h-1zM512 349h1v1h-1zM502 350h1v1h-1zM507 350h1v1h-1zM512 350h1v1h-1zM502 351h11v1h-11zM502 352h1v1h-1zM507 352h1v1h-1zM512 352h1v1h-1zM507 353h1v1h-1zM507 354h1v1h-1zM507 355h1v1h-1zM507 356h1v1h-1zM515 343h13v1h-13zM515 344h1v1h-1zM527 344h1v1h-1zM515 345h1v1h-1zM517 345h9v1h-9zM527 345h1v1h-1zM515 346h1v1h-1zM521 346h1v1h-1zM527 346h1v1h-1zM515 347h1v1h-1zM521 347h1v1h-1zM527 347h1v1h-1zM515 348h1v1h-1zM521 348h1v1h-1zM527 348h1v1h-1zM515 349h1v1h-1zM518 349h7v1h-7zM527 349h1v1h-1zM515 350h1v1h-1zM521 350h1v1h-1zM527 350h1v1h-1zM515 351h1v1h-1zM521 351h1v1h-1zM523 351h1v1h-1zM527 351h1v1h-1zM515 352h1v1h-1zM521 352h1v1h-1zM524 352h1v1h-1zM527 352h1v1h-1zM515 353h1v1h-1zM517 353h9v1h-9zM527 353h1v1h-1zM515 354h1v1h-1zM527 354h1v1h-1zM515 355h13v1h-13zM515 356h1v1h-1zM527 356h1v1h-1z"/>
</g>
<g>
<line x1="10" y1="42.5" x2="25" y2="42.5" stroke="#F8766D" stroke-width="1" shape-rendering="crispEdges"/>
<text x="17.5" y="48.5" text-anchor="middle" style="font-size:14px;fill:#F8766D">a</text>
<line x1="10" y1="61.5" x2="25" y2="61.5" stroke="#E18A00" stroke-width="1" shape-rendering="crispEdges"/>
<text x="17.5" y="67" text-anchor="middle" style="font-size:14px;fill:#E18A00">a</text>
<line x1="74" y1="42.5" x2="89" y2="42.5" stroke="#BE9C00" stroke-width="1" shape-rendering="crispEdges"/>
<text x="81.5" y="48.5" text-anchor="middle" style="font-size:14px;fill:#BE9C00">a</text>
<line x1="74" y1="61.5" x2="89" y2="61.5" stroke="#8CAB00" stroke-width="1" shape-rendering="crispEdges"/>
<text x="81.5" y="67" text-anchor="middle" style="font-size:14px;fill:#8CAB00">a</text>
<line x1="170" y1="42.5" x2="185" y2="42.5" stroke="#24B700" stroke-width="1" shape-rendering="crispEdges"/>
<text x="177.5" y="48.5" text-anchor="middle" style="font-size:14px;fill:#24B700">a</text>
<line x1="170" y1="61.5" x2="185" y2="61.5" stroke="#00BE70" stroke-width="1" shape-rendering="crispEdges"/>
<text x="177.5" y="67" text-anchor="middle" style="font-size:14px;fill:#00BE70">a</text>
<line x1="282" y1="42.5" x2="297" y2="42.5" stroke="#00C1AB" stroke-width="1" shape-rendering="crispEdges"/>
<text x="289.5" y="48.5" text-anchor="middle" style="font-size:14px;fill:#00C1AB">a</text>
<line x1="282" y1="61.5" x2="297" y2="61.5" stroke="#00BBDA" stroke-width="1" shape-rendering="crispEdges"/>
<text x="289.5" y="67" text-anchor="middle" style="font-size:14px;fill:#00BBDA">a</text>
<line x1="410" y1="42.5" x2="425" y2="42.5" stroke="#00ACFC" stroke-width="1" shape-rendering="crispEdges"/>
<text x="417.5" y="48.5" text-anchor="middle" style="font-size:14px;fill:#00ACFC">a</text>
<line x1="410" y1="61.5" x2="425" y2="61.5" stroke="#8B93FF" stroke-width="1" shape-rendering="crispEdges"/>
<text x="417.5" y="67" text-anchor="middle" style="font-size:14px;fill:#8B93FF">a</text>
<line x1="491" y1="42.5" x2="506" y2="42.5" stroke="#D575FE" stroke-width="1" shape-rendering="crispEdges"/>
<text x="498.5" y="48.5" text-anchor="middle" style="font-size:14px;fill:#D575FE">a</text>
<line x1="491" y1="61.5" x2="506" y2="61.5" stroke="#F962DD" stroke-width="1" shape-rendering="crispEdges"/>
<text x="498.5" y="67" text-anchor="middle" style="font-size:14px;fill:#F962DD">a</text>
<line x1="555" y1="42.5" x2="570" y2="42.5" stroke="#FF65AC" stroke-width="1" shape-rendering="crispEdges"/>
<text x="562.5" y="48.5" text-anchor="middle" style="font-size:14px;fill:#FF65AC">a</text>
<path fill="#000" shape-rendering="crispEdges" d="M37 36h1v1h-1zM43 36h1v1h-1zM37 37h1v1h-1zM39 37h9v1h-9zM36 38h1v1h-1zM43 38h1v1h-1zM35 39h1v1h-1zM40 39h7v1h-7zM34 40h1v1h-1zM37 40h1v1h-1zM40 40h1v1h-1zM42 40h1v1h-1zM44 40h1v1h-1zM46 40h1v1h-1zM37 41h1v1h-1zM40 41h1v1h-1zM42 41h1v1h-1zM44 41h1v1h-1zM46 41h1v1h-1zM36 42h1v1h-1zM40 42h7v1h-7zM35 43h2v1h-2zM34 44h1v1h-1zM36 44h1v1h-1zM39 44h9v1h-9zM36 45h1v1h-1zM42 45h1v1h-1zM36 46h1v1h-1zM39 46h1v1h-1zM41 46h1v1h-1zM43 46h1v1h-1zM46 46h1v1h-1zM36 47h1v1h-1zM39 47h1v1h-1zM41 47h1v1h-1zM43 47h1v1h-1zM45 47h1v1h-1zM47 47h1v1h-1zM36 48h1v1h-1zM38 48h1v1h-1zM41 48h1v1h-1zM45 48h1v1h-1zM47 48h1v1h-1zM36 49h1v1h-1zM42 49h4v1h-4zM51 36h13v1h-13zM51 37h1v1h-1zM63 37h1v1h-1zM51 38h1v1h-1zM53 38h9v1h-9zM63 38h1v1h-1zM51 39h1v1h-1zM57 39h1v1h-1zM63 39h1v1h-1zM51 40h1v1h-1zM57 40h1v1h-1zM63 40h1v1h-1zM51 41h1v1h-1zM57 41h1v1h-1zM63 41h1v1h-1zM51 42h1v1h-1zM54 42h7v1h-7zM63 42h1v1h-1zM51 43h1v1h-1zM57 43h1v1h-1zM63 43h1v1h-1zM51 44h1v1h-1zM57 44h1v1h-1zM59 44h1v1h-1zM63 44h1v1h-1zM51 45h1v1h-1zM57 45h1v1h-1zM60 45h1v1h-1zM63 45h1v1h-1zM51 46h1v1h-1zM53 46h9v1h-9zM63 46h1v1h-1zM51 47h1v1h-1zM63 47h1v1h-1zM51 48h13v1h-13zM51 49h1v1h-1zM63 49h1v1h-1zM35 54h1v1h-1zM42 54h1v1h-1zM36 55h1v1h-1zM42 55h1v1h-1zM36 56h1v1h-1zM42 56h1v1h-1zM39 57h7v1h-7zM34 58h1v1h-1zM37 58h1v1h-1zM42 58h1v1h-1zM35 59h1v1h-1zM37 59h1v1h-1zM42 59h1v1h-1zM36 60h1v1h-1zM42 60h1v1h-1zM36 61h1v1h-1zM38 61h10v1h-10zM36 62h1v1h-1zM42 62h1v1h-1zM34 63h2v1h-2zM41 63h1v1h-1zM35 64h1v1h-1zM41 64h1v1h-1zM44 64h1v1h-1zM35 65h1v1h-1zM40 65h1v1h-1zM45 65h1v1h-1zM35 66h1v1h-1zM38 66h9v1h-9zM35 67h1v1h-1zM39 67h1v1h-1zM46 67h1v1h-1zM51 54h13v1h-13zM51 55h1v1h-1zM63 55h1v1h-1zM51 56h1v1h-1zM53 56h9v1h-9zM63 56h1v1h-1zM51 57h1v1h-1zM57 57h1v1h-1zM63 57h1v1h-1zM51 58h1v1h-1zM57 58h1v1h-1zM63 58h1v1h-1zM51 59h1v1h-1zM57 59h1v1h-1zM63 59h1v1h-1zM51 60h1v1h-1zM54 60h7v1h-7zM63 60h1v1h-1zM51 61h1v1h-1zM57 61h1v1h-1zM63 61h1v1h-1zM51 62h1v1h-1zM57 62h1v1h-1zM59 62h1v1h-1zM63 62h1v1h-1zM51 63h1v1h-1zM57 63h1v1h-1zM60 63h1v1h-1zM63 63h1v1h-1zM51 64h1v1h-1zM53 64h9v1h-9zM63 64h1v1h-1zM51 65h1v1h-1zM63 65h1v1h-1zM51 66h13v1h-13zM51 67h1v1h-1zM63 67h1v1h-1zM101 36h1v1h-1zM108 36h1v1h-1zM101 37h1v1h-1zM108 37h1v1h-1zM98 38h6v1h-6zM105 38h7v1h-7zM101 39h1v1h-1zM108 39h1v1h-1zM99 40h5v1h-5zM108 40h1v1h-1zM99 41h1v1h-1zM103 41h1v1h-1zM106 41h5v1h-5zM99 42h5v1h-5zM108 42h1v1h-1zM99 43h1v1h-1zM103 43h1v1h-1zM105 43h7v1h-7zM99 44h5v1h-5zM108 44h1v1h-1zM111 44h1v1h-1zM101 45h1v1h-1zM108 45h1v1h-1zM111 45h1v1h-1zM98 46h7v1h-7zM108 46h2v1h-2zM111 46h1v1h-1zM101 47h1v1h-1zM108 47h1v1h-1zM110 47h1v1h-1zM101 48h1v1h-1zM108 48h1v1h-1zM101 49h1v1h-1zM108 49h1v1h-1zM115 36h13v1h-13zM115 37h1v1h-1zM127 37h1v1h-1zM115 38h1v1h-1zM117 38h9v1h-9zM127 38h1v1h-1zM115 39h1v1h-1zM121 39h1v1h-1zM127 39h1v1h-1zM115 40h1v1h-1zM121 40h1v1h-1zM127 40h1v1h-1zM115 41h1v1h-1zM121 41h1v1h-1zM127 41h1v1h-1zM115 42h1v1h-1zM118 42h7v1h-7zM127 42h1v1h-1zM115 43h1v1h-1zM121 43h1v1h-1zM127 43h1v1h-1zM115 44h1v1h-1zM121 44h1v1h-1zM123 44h1v1h-1zM127 44h1v1h-1zM115 45h1v1h-1zM121 45h1v1h-1zM124 45h1v1h-1zM127 45h1v1h-1zM115 46h1v1h-1zM117 46h9v1h-9zM127 46h1v1h-1zM115 47h1v1h-1zM127 47h1v1h-1zM115 48h13v1h-13zM115 49h1v1h-1zM127 49h1v1h-1zM99 55h9v1h-9zM107 56h1v1h-1zM102 57h1v1h-1zM107 57h1v1h-1zM102 58h1v1h-1zM106 58h1v1h-1zM101 59h1v1h-1zM106 59h1v1h-1zM101 60h1v1h-1zM106 60h1v1h-1zM100 61h11v1h-11zM110 62h1v1h-1zM110 63h1v1h-1zM98 64h10v1h-10zM110 64h1v1h-1zM109 65h1v1h-1zM107 66h1v1h-1zM109 66h1v1h-1zM108 67h1v1h-1zM120 54h1v1h-1zM120 55h1v1h-1zM115 56h11v1h-11zM120 57h1v1h-1zM117 58h1v1h-1zM120 58h1v1h-1zM123 58h1v1h-1zM118 59h1v1h-1zM120 59h1v1h-1zM122 59h1v1h-1zM114 60h13v1h-13zM120 61h1v1h-1zM119 62h3v1h-3zM118 63h1v1h-1zM120 63h1v1h-1zM122 63h1v1h-1zM117 64h1v1h-1zM120 64h1v1h-1zM123 64h1v1h-1zM116 65h1v1h-1zM120 65h1v1h-1zM124 65h1v1h-1zM114 66h2v1h-2zM120 66h1v1h-1zM125 66h2v1h-2zM120 67h1v1h-1zM130 55h13v1h-13zM134 56h1v1h-1zM137 56h1v1h-1zM134 57h1v1h-1zM137 57h1v1h-1zM131 58h11v1h-11zM131 59h1v1h-1zM134 59h1v1h-1zM137 59h1v1h-1zM141 59h1v1h-1zM131 60h1v1h-1zM134 60h1v1h-1zM137 60h1v1h-1zM141 60h1v1h-1zM131 61h1v1h-1zM134 61h1v1h-1zM137 61h1v1h-1zM141 61h1v1h-1zM131 62h1v1h-1zM134 62h1v1h-1zM137 62h1v1h-1zM141 62h1v1h-1zM131 63h1v1h-1zM133 63h1v1h-1zM137 63h5v1h-5zM131 64h2v1h-2zM141 64h1v1h-1zM131 65h1v1h-1zM141 65h1v1h-1zM131 66h11v1h-11zM131 67h1v1h-1zM141 67h1v1h-1zM147 55h12v1h-12zM151 56h1v1h-1zM154 56h1v1h-1zM151 57h1v1h-1zM154 57h1v1h-1zM147 58h1v1h-1zM151 58h1v1h-1zM154 58h1v1h-1zM157 58h1v1h-1zM148 59h1v1h-1zM151 59h1v1h-1zM154 59h1v1h-1zM157 59h1v1h-1zM148 60h1v1h-1zM151 60h1v1h-1zM154 60h1v1h-1zM157 60h1v1h-1zM149 61h1v1h-1zM151 61h1v1h-1zM154 61h1v1h-1zM156 61h1v1h-1zM149 62h1v1h-1zM151 62h1v1h-1zM154 62h1v1h-1zM156 62h1v1h-1zM149 63h1v1h-1zM151 63h1v1h-1zM154 63h2v1h-2zM151 64h1v1h-1zM154 64h1v1h-1zM151 65h1v1h-1zM154 65h1v1h-1zM146 66h14v1h-14zM197 36h1v1h-1zM204 36h2v1h-2zM198 37h2v1h-2zM204 37h1v1h-1zM199 38h1v1h-1zM203 38h1v1h-1zM196 39h11v1h-11zM201 40h1v1h-1zM197 41h9v1h-9zM201 42h1v1h-1zM195 43h13v1h-13zM201 44h1v1h-1zM196 45h11v1h-11zM200 46h1v1h-1zM202 46h1v1h-1zM199 47h1v1h-1zM203 47h1v1h-1zM198 48h1v1h-1zM204 48h1v1h-1zM195 49h3v1h-3zM205 49h3v1h-3zM212 36h13v1h-13zM212 37h1v1h-1zM224 37h1v1h-1zM212 38h1v1h-1zM214 38h9v1h-9zM224 38h1v1h-1zM212 39h1v1h-1zM218 39h1v1h-1zM224 39h1v1h-1zM212 40h1v1h-1zM218 40h1v1h-1zM224 40h1v1h-1zM212 41h1v1h-1zM218 41h1v1h-1zM224 41h1v1h-1zM212 42h1v1h-1zM215 42h7v1h-7zM224 42h1v1h-1zM212 43h1v1h-1zM218 43h1v1h-1zM224 43h1v1h-1zM212 44h1v1h-1zM218 44h1v1h-1zM220 44h1v1h-1zM224 44h1v1h-1zM212 45h1v1h-1zM218 45h1v1h-1zM221 45h1v1h-1zM224 45h1v1h-1zM212 46h1v1h-1zM214 46h9v1h-9zM224 46h1v1h-1zM212 47h1v1h-1zM224 47h1v1h-1zM212 48h13v1h-13zM212 49h1v1h-1zM224 49h1v1h-1zM197 54h1v1h-1zM204 54h2v1h-2zM198 55h2v1h-2zM204 55h1v1h-1zM199 56h1v1h-1zM203 56h1v1h-1zM196 57h11v1h-11zM201 58h1v1h-1zM197 59h9v1h-9zM201 60h1v1h-1zM195 61h13v1h-13zM201 62h1v1h-1zM196 63h11v1h-11zM200 64h1v1h-1zM202 64h1v1h-1zM199 65h1v1h-1zM203 65h1v1h-1zM198 66h1v1h-1zM204 66h1v1h-1zM195 67h3v1h-3zM205 67h3v1h-3zM212 54h13v1h-13zM212 55h1v1h-1zM224 55h1v1h-1zM212 56h1v1h-1zM214 56h9v1h-9zM224 56h1v1h-1zM212 57h1v1h-1zM218 57h1v1h-1zM224 57h1v1h-1zM212 58h1v1h-1zM218 58h1v1h-1zM224 58h1v1h-1zM212 59h1v1h-1zM218 59h1v1h-1zM224 59h1v1h-1zM212 60h1v1h-1zM215 60h7v1h-7zM224 60h1v1h-1zM212 61h1v1h-1zM218 61h1v1h-1zM224 61h1v1h-1zM212 62h1v1h-1zM218 62h1v1h-1zM220 62h1v1h-1zM224 62h1v1h-1zM212 63h1v1h-1zM218 63h1v1h-1zM221 63h1v1h-1zM224 63h1v1h-1zM212 64h1v1h-1zM214 64h9v1h-9zM224 64h1v1h-1zM212 65h1v1h-1zM224 65h1v1h-1zM212 66h13v1h-13zM212 67h1v1h-1zM224 67h1v1h-1zM230 54h1v1h-1zM230 55h1v1h-1zM233 55h7v1h-7zM229 56h1v1h-1zM235 56h1v1h-1zM239 56h1v1h-1zM229 57h1v1h-1zM232 57h1v1h-1zM235 57h1v1h-1zM239 57h1v1h-1zM228 58h1v1h-1zM231 58h1v1h-1zM235 58h1v1h-1zM239 58h1v1h-1zM227 59h4v1h-4zM235 59h1v1h-1zM239 59h1v1h-1zM230 60h1v1h-1zM235 60h1v1h-1zM239 60h1v1h-1zM229 61h1v1h-1zM233 61h7v1h-7zM228 62h1v1h-1zM231 62h1v1h-1zM235 62h1v1h-1zM239 62h1v1h-1zM227 63h4v1h-4zM235 63h1v1h-1zM239 63h1v1h-1zM235 64h1v1h-1zM239 64h1v1h-1zM230 65h2v1h-2zM235 65h1v1h-1zM239 65h1v1h-1zM227 66h3v1h-3zM235 66h1v1h-1zM239 66h1v1h-1zM232 67h9v1h-9zM246 54h1v1h-1zM250 54h1v1h-1zM246 55h1v1h-1zM250 55h1v1h-1zM245 56h1v1h-1zM250 56h1v1h-1zM245 57h1v1h-1zM247 57h1v1h-1zM250 57h6v1h-6zM244 58h1v1h-1zM247 58h1v1h-1zM249 58h1v1h-1zM255 58h1v1h-1zM243 59h4v1h-4zM249 59h1v1h-1zM255 59h1v1h-1zM246 60h1v1h-1zM248 60h1v1h-1zM251 60h1v1h-1zM255 60h1v1h-1zM245 61h1v1h-1zM252 61h1v1h-1zM255 61h1v1h-1zM244 62h1v1h-1zM247 62h2v1h-2zM252 62h1v1h-1zM255 62h1v1h-1zM243 63h4v1h-4zM255 63h1v1h-1zM255 64h1v1h-1zM246 65h3v1h-3zM255 65h1v1h-1zM243 66h3v1h-3zM252 66h1v1h-1zM254 66h1v1h-1zM253 67h1v1h-1zM262 54h1v1h-1zM270 54h1v1h-1zM262 55h1v1h-1zM266 55h1v1h-1zM270 55h1v1h-1zM262 56h1v1h-1zM266 56h1v1h-1zM270 56h1v1h-1zM262 57h1v1h-1zM266 57h1v1h-1zM270 57h1v1h-1zM260 58h1v1h-1zM262 58h2v1h-2zM266 58h2v1h-2zM270 58h1v1h-1zM260 59h1v1h-1zM262 59h1v1h-1zM264 59h1v1h-1zM266 59h1v1h-1zM268 59h1v1h-1zM270 59h1v1h-1zM260 60h1v1h-1zM262 60h1v1h-1zM264 60h1v1h-1zM266 60h1v1h-1zM268 60h1v1h-1zM270 60h1v1h-1zM259 61h1v1h-1zM262 61h1v1h-1zM264 61h1v1h-1zM266 61h1v1h-1zM268 61h1v1h-1zM270 61h1v1h-1zM259 62h1v1h-1zM262 62h1v1h-1zM266 62h1v1h-1zM270 62h1v1h-1zM262 63h1v1h-1zM266 63h1v1h-1zM270 63h1v1h-1zM261 64h1v1h-1zM266 64h1v1h-1zM270 64h1v1h-1zM261 65h1v1h-1zM266 65h1v1h-1zM270 65h1v1h-1zM260 66h1v1h-1zM266 66h1v1h-1zM270 66h1v1h-1zM259 67h1v1h-1zM270 67h1v1h-1zM312 36h1v1h-1zM312 37h1v1h-1zM311 38h1v1h-1zM313 38h1v1h-1zM310 39h1v1h-1zM314 39h1v1h-1zM309 40h1v1h-1zM315 40h1v1h-1zM308 41h1v1h-1zM316 41h1v1h-1zM306 42h2v1h-2zM309 42h7v1h-7zM317 42h2v1h-2zM312 43h1v1h-1zM312 44h1v1h-1zM309 45h7v1h-7zM312 46h1v1h-1zM312 47h1v1h-1zM312 48h1v1h-1zM307 49h11v1h-11zM331 36h1v1h-1zM333 36h1v1h-1zM331 37h1v1h-1zM334 37h1v1h-1zM322 38h5v1h-5zM331 38h1v1h-1zM324 39h1v1h-1zM327 39h9v1h-9zM324 40h1v1h-1zM331 40h1v1h-1zM324 41h1v1h-1zM328 41h1v1h-1zM331 41h1v1h-1zM335 41h1v1h-1zM322 42h5v1h-5zM329 42h1v1h-1zM331 42h1v1h-1zM334 42h1v1h-1zM324 43h1v1h-1zM330 43h2v1h-2zM333 43h1v1h-1zM324 44h1v1h-1zM329 44h1v1h-1zM331 44h2v1h-2zM324 45h1v1h-1zM328 45h1v1h-1zM331 45h1v1h-1zM333 45h1v1h-1zM324 46h2v1h-2zM327 46h1v1h-1zM331 46h1v1h-1zM334 46h1v1h-1zM322 47h2v1h-2zM331 47h1v1h-1zM335 47h1v1h-1zM329 48h1v1h-1zM331 48h1v1h-1zM330 49h1v1h-1zM349 37h1v1h-1zM348 38h1v1h-1zM347 39h1v1h-1zM346 40h1v1h-1zM346 41h1v1h-1zM345 42h1v1h-1zM345 43h1v1h-1zM345 44h1v1h-1zM345 45h1v1h-1zM346 46h1v1h-1zM346 47h1v1h-1zM347 48h1v1h-1zM348 49h1v1h-1zM349 50h1v1h-1zM360 36h1v1h-1zM360 37h1v1h-1zM360 38h1v1h-1zM354 39h14v1h-14zM359 40h1v1h-1zM359 41h1v1h-1zM358 42h1v1h-1zM358 43h8v1h-8zM357 44h2v1h-2zM365 44h1v1h-1zM356 45h1v1h-1zM358 45h1v1h-1zM365 45h1v1h-1zM355 46h1v1h-1zM358 46h1v1h-1zM365 46h1v1h-1zM354 47h1v1h-1zM358 47h1v1h-1zM365 47h1v1h-1zM358 48h8v1h-8zM358 49h1v1h-1zM365 49h1v1h-1zM372 36h1v1h-1zM379 36h1v1h-1zM372 37h1v1h-1zM379 37h1v1h-1zM372 38h1v1h-1zM379 38h1v1h-1zM370 39h6v1h-6zM379 39h1v1h-1zM371 40h1v1h-1zM376 40h7v1h-7zM371 41h1v1h-1zM373 41h1v1h-1zM376 41h1v1h-1zM379 41h1v1h-1zM382 41h1v1h-1zM370 42h1v1h-1zM373 42h1v1h-1zM376 42h1v1h-1zM379 42h1v1h-1zM382 42h1v1h-1zM370 43h7v1h-7zM379 43h1v1h-1zM382 43h1v1h-1zM373 44h1v1h-1zM376 44h7v1h-7zM373 45h4v1h-4zM379 45h1v1h-1zM382 45h1v1h-1zM370 46h4v1h-4zM376 46h1v1h-1zM379 46h1v1h-1zM382 46h1v1h-1zM373 47h1v1h-1zM376 47h1v1h-1zM379 47h1v1h-1zM382 47h1v1h-1zM373 48h1v1h-1zM376 48h7v1h-7zM373 49h1v1h-1zM376 49h1v1h-1zM382 49h1v1h-1zM388 37h1v1h-1zM389 38h1v1h-1zM390 39h1v1h-1zM391 40h1v1h-1zM391 41h1v1h-1zM392 42h1v1h-1zM392 43h1v1h-1zM392 44h1v1h-1zM392 45h1v1h-1zM391 46h1v1h-1zM391 47h1v1h-1zM390 48h1v1h-1zM389 49h1v1h-1zM388 50h1v1h-1zM315 54h1v1h-1zM306 55h5v1h-5zM312 55h1v1h-1zM315 55h1v1h-1zM318 55h1v1h-1zM308 56h1v1h-1zM312 56h1v1h-1zM315 56h1v1h-1zM318 56h1v1h-1zM308 57h1v1h-1zM312 57h7v1h-7zM308 58h1v1h-1zM308 59h1v1h-1zM312 59h8v1h-8zM306 60h5v1h-5zM315 60h1v1h-1zM308 61h1v1h-1zM314 61h1v1h-1zM308 62h1v1h-1zM312 62h8v1h-8zM308 63h1v1h-1zM312 63h1v1h-1zM314 63h1v1h-1zM316 63h1v1h-1zM319 63h1v1h-1zM308 64h3v1h-3zM312 64h1v1h-1zM314 64h1v1h-1zM316 64h1v1h-1zM319 64h1v1h-1zM306 65h2v1h-2zM312 65h1v1h-1zM314 65h1v1h-1zM316 65h1v1h-1zM319 65h1v1h-1zM312 66h1v1h-1zM314 66h1v1h-1zM316 66h1v1h-1zM319 66h1v1h-1zM312 67h1v1h-1zM318 67h1v1h-1zM327 54h1v1h-1zM329 54h1v1h-1zM327 55h1v1h-1zM329 55h1v1h-1zM327 56h1v1h-1zM329 56h1v1h-1zM324 57h9v1h-9zM324 58h1v1h-1zM327 58h1v1h-1zM329 58h1v1h-1zM332 58h1v1h-1zM324 59h1v1h-1zM327 59h1v1h-1zM329 59h1v1h-1zM332 59h1v1h-1zM324 60h9v1h-9zM324 61h1v1h-1zM327 61h1v1h-1zM329 61h1v1h-1zM332 61h1v1h-1zM324 62h1v1h-1zM327 62h1v1h-1zM329 62h1v1h-1zM332 62h1v1h-1zM322 63h13v1h-13zM325 65h1v1h-1zM331 65h1v1h-1zM324 66h1v1h-1zM332 66h2v1h-2zM323 67h1v1h-1zM333 67h1v1h-1zM435 37h13v1h-13zM439 38h1v1h-1zM442 38h1v1h-1zM439 39h1v1h-1zM442 39h1v1h-1zM436 40h11v1h-11zM436 41h1v1h-1zM439 41h1v1h-1zM442 41h1v1h-1zM446 41h1v1h-1zM436 42h1v1h-1zM439 42h1v1h-1zM442 42h1v1h-1zM446 42h1v1h-1zM436 43h1v1h-1zM439 43h1v1h-1zM442 43h1v1h-1zM446 43h1v1h-1zM436 44h1v1h-1zM439 44h1v1h-1zM442 44h1v1h-1zM446 44h1v1h-1zM436 45h1v1h-1zM438 45h1v1h-1zM442 45h5v1h-5zM436 46h2v1h-2zM446 46h1v1h-1zM436 47h1v1h-1zM446 47h1v1h-1zM436 48h11v1h-11zM436 49h1v1h-1zM446 49h1v1h-1zM458 36h1v1h-1zM458 37h1v1h-1zM451 38h5v1h-5zM458 38h1v1h-1zM460 38h5v1h-5zM453 39h1v1h-1zM458 39h1v1h-1zM462 39h1v1h-1zM453 40h1v1h-1zM458 40h1v1h-1zM462 40h1v1h-1zM453 41h1v1h-1zM456 41h1v1h-1zM458 41h1v1h-1zM462 41h1v1h-1zM451 42h6v1h-6zM458 42h1v1h-1zM460 42h5v1h-5zM453 43h1v1h-1zM456 43h1v1h-1zM458 43h1v1h-1zM462 43h1v1h-1zM453 44h1v1h-1zM455 44h1v1h-1zM458 44h1v1h-1zM462 44h1v1h-1zM453 45h1v1h-1zM458 45h1v1h-1zM462 45h1v1h-1zM453 46h3v1h-3zM457 46h1v1h-1zM462 46h1v1h-1zM451 47h2v1h-2zM457 47h1v1h-1zM462 47h1v1h-1zM456 48h1v1h-1zM459 48h6v1h-6zM455 49h1v1h-1zM468 37h12v1h-12zM475 38h1v1h-1zM470 39h1v1h-1zM475 39h1v1h-1zM470 40h1v1h-1zM475 40h1v1h-1zM469 41h11v1h-11zM475 42h1v1h-1zM473 43h1v1h-1zM475 43h1v1h-1zM472 44h1v1h-1zM475 44h1v1h-1zM471 45h1v1h-1zM475 45h1v1h-1zM470 46h1v1h-1zM475 46h1v1h-1zM469 47h1v1h-1zM475 47h1v1h-1zM467 48h2v1h-2zM473 48h1v1h-1zM475 48h1v1h-1zM474 49h1v1h-1zM440 54h1v1h-1zM436 55h10v1h-10zM438 56h1v1h-1zM443 56h1v1h-1zM435 57h12v1h-12zM437 59h8v1h-8zM437 60h1v1h-1zM444 60h1v1h-1zM437 61h8v1h-8zM437 62h1v1h-1zM444 62h1v1h-1zM437 63h8v1h-8zM440 64h1v1h-1zM445 64h1v1h-1zM436 65h1v1h-1zM438 65h1v1h-1zM441 65h1v1h-1zM446 65h1v1h-1zM436 66h1v1h-1zM438 66h1v1h-1zM444 66h1v1h-1zM446 66h1v1h-1zM435 67h1v1h-1zM439 67h6v1h-6zM456 54h1v1h-1zM456 55h1v1h-1zM456 56h1v1h-1zM456 57h1v1h-1zM450 58h13v1h-13zM456 59h1v1h-1zM456 60h1v1h-1zM455 61h1v1h-1zM457 61h1v1h-1zM455 62h1v1h-1zM457 62h1v1h-1zM454 63h1v1h-1zM458 63h1v1h-1zM454 64h1v1h-1zM458 64h1v1h-1zM453 65h1v1h-1zM459 65h1v1h-1zM452 66h1v1h-1zM460 66h3v1h-3zM450 67h2v1h-2zM461 67h1v1h-1zM472 54h2v1h-2zM478 54h1v1h-1zM467 55h5v1h-5zM478 55h1v1h-1zM470 56h1v1h-1zM475 56h1v1h-1zM478 56h1v1h-1zM470 57h1v1h-1zM475 57h1v1h-1zM478 57h1v1h-1zM466 58h8v1h-8zM475 58h1v1h-1zM478 58h1v1h-1zM470 59h1v1h-1zM475 59h1v1h-1zM478 59h1v1h-1zM469 60h3v1h-3zM475 60h1v1h-1zM478 60h1v1h-1zM468 61h1v1h-1zM470 61h1v1h-1zM472 61h2v1h-2zM475 61h1v1h-1zM478 61h1v1h-1zM468 62h1v1h-1zM470 62h1v1h-1zM473 62h1v1h-1zM475 62h1v1h-1zM478 62h1v1h-1zM467 63h1v1h-1zM470 63h1v1h-1zM475 63h1v1h-1zM478 63h1v1h-1zM466 64h1v1h-1zM470 64h1v1h-1zM475 64h1v1h-1zM478 64h1v1h-1zM470 65h1v1h-1zM478 65h1v1h-1zM470 66h1v1h-1zM476 66h1v1h-1zM478 66h1v1h-1zM470 67h1v1h-1zM477 67h1v1h-1zM519 36h1v1h-1zM517 37h2v1h-2zM514 38h3v1h-3zM520 38h6v1h-6zM514 39h1v1h-1zM520 39h1v1h-1zM525 39h1v1h-1zM514 40h1v1h-1zM520 40h1v1h-1zM525 40h1v1h-1zM514 41h1v1h-1zM520 41h1v1h-1zM525 41h1v1h-1zM514 42h5v1h-5zM520 42h1v1h-1zM525 42h1v1h-1zM514 43h1v1h-1zM520 43h1v1h-1zM525 43h1v1h-1zM514 44h1v1h-1zM520 44h1v1h-1zM525 44h1v1h-1zM514 45h1v1h-1zM517 45h2v1h-2zM520 45h1v1h-1zM525 45h1v1h-1zM514 46h3v1h-3zM520 46h1v1h-1zM523 46h1v1h-1zM525 46h1v1h-1zM514 47h1v1h-1zM520 47h1v1h-1zM524 47h1v1h-1zM520 48h1v1h-1zM520 49h1v1h-1zM536 36h1v1h-1zM537 37h1v1h-1zM531 38h12v1h-12zM531 39h1v1h-1zM535 39h1v1h-1zM539 39h1v1h-1zM531 40h12v1h-12zM531 41h1v1h-1zM535 41h1v1h-1zM539 41h1v1h-1zM531 42h1v1h-1zM535 42h5v1h-5zM531 43h1v1h-1zM531 44h1v1h-1zM533 44h8v1h-8zM531 45h1v1h-1zM535 45h1v1h-1zM539 45h1v1h-1zM531 46h1v1h-1zM536 46h1v1h-1zM538 46h1v1h-1zM530 47h1v1h-1zM537 47h1v1h-1zM530 48h1v1h-1zM535 48h2v1h-2zM538 48h2v1h-2zM529 49h1v1h-1zM533 49h2v1h-2zM540 49h2v1h-2zM518 54h1v1h-1zM522 54h1v1h-1zM518 55h1v1h-1zM522 55h1v1h-1zM514 56h13v1h-13zM518 57h1v1h-1zM520 57h1v1h-1zM522 57h1v1h-1zM520 58h1v1h-1zM516 59h9v1h-9zM516 60h1v1h-1zM520 60h1v1h-1zM524 60h1v1h-1zM516 61h1v1h-1zM520 61h1v1h-1zM524 61h1v1h-1zM514 62h14v1h-14zM520 63h1v1h-1zM519 64h1v1h-1zM521 64h1v1h-1zM518 65h1v1h-1zM522 65h1v1h-1zM517 66h1v1h-1zM523 66h1v1h-1zM514 67h3v1h-3zM524 67h3v1h-3zM531 54h13v1h-13zM531 55h1v1h-1zM543 55h1v1h-1zM531 56h1v1h-1zM533 56h9v1h-9zM543 56h1v1h-1zM531 57h1v1h-1zM537 57h1v1h-1zM543 57h1v1h-1zM531 58h1v1h-1zM537 58h1v1h-1zM543 58h1v1h-1zM531 59h1v1h-1zM537 59h1v1h-1zM543 59h1v1h-1zM531 60h1v1h-1zM534 60h7v1h-7zM543 60h1v1h-1zM531 61h1v1h-1zM537 61h1v1h-1zM543 61h1v1h-1zM531 62h1v1h-1zM537 62h1v1h-1zM539 62h1v1h-1zM543 62h1v1h-1zM531 63h1v1h-1zM537 63h1v1h-1zM540 63h1v1h-1zM543 63h1v1h-1zM531 64h1v1h-1zM533 64h9v1h-9zM543 64h1v1h-1zM531 65h1v1h-1zM543 65h1v1h-1zM531 66h13v1h-13zM531 67h1v1h-1zM543 67h1v1h-1zM584 36h1v1h-1zM584 37h1v1h-1zM584 38h1v1h-1zM579 39h11v1h-11zM579 40h1v1h-1zM584 40h1v1h-1zM589 40h1v1h-1zM579 41h1v1h-1zM584 41h1v1h-1zM589 41h1v1h-1zM579 42h1v1h-1zM584 42h1v1h-1zM589 42h1v1h-1zM579 43h1v1h-1zM584 43h1v1h-1zM589 43h1v1h-1zM579 44h11v1h-11zM579 45h1v1h-1zM584 45h1v1h-1zM589 45h1v1h-1zM584 46h1v1h-1zM584 47h1v1h-1zM584 48h1v1h-1zM584 49h1v1h-1zM594 36h13v1h-13zM594 37h1v1h-1zM606 37h1v1h-1zM594 38h1v1h-1zM596 38h9v1h-9zM606 38h1v1h-1zM594 39h1v1h-1zM600 39h1v1h-1zM606 39h1v1h-1zM594 40h1v1h-1zM600 40h1v1h-1zM606 40h1v1h-1zM594 41h1v1h-1zM600 41h1v1h-1zM606 41h1v1h-1zM594 42h1v1h-1zM597 42h7v1h-7zM606 42h1v1h-1zM594 43h1v1h-1zM600 43h1v1h-1zM606 43h1v1h-1zM594 44h1v1h-1zM600 44h1v1h-1zM602 44h1v1h-1zM606 44h1v1h-1zM594 45h1v1h-1zM600 45h1v1h-1zM603 45h1v1h-1zM606 45h1v1h-1zM594 46h1v1h-1zM596 46h9v1h-9zM606 46h1v1h-1zM594 47h1v1h-1zM606 47h1v1h-1zM594 48h13v1h-13zM594 49h1v1h-1zM606 49h1v1h-1z"/>
</g>
</svg>
</body></html>
